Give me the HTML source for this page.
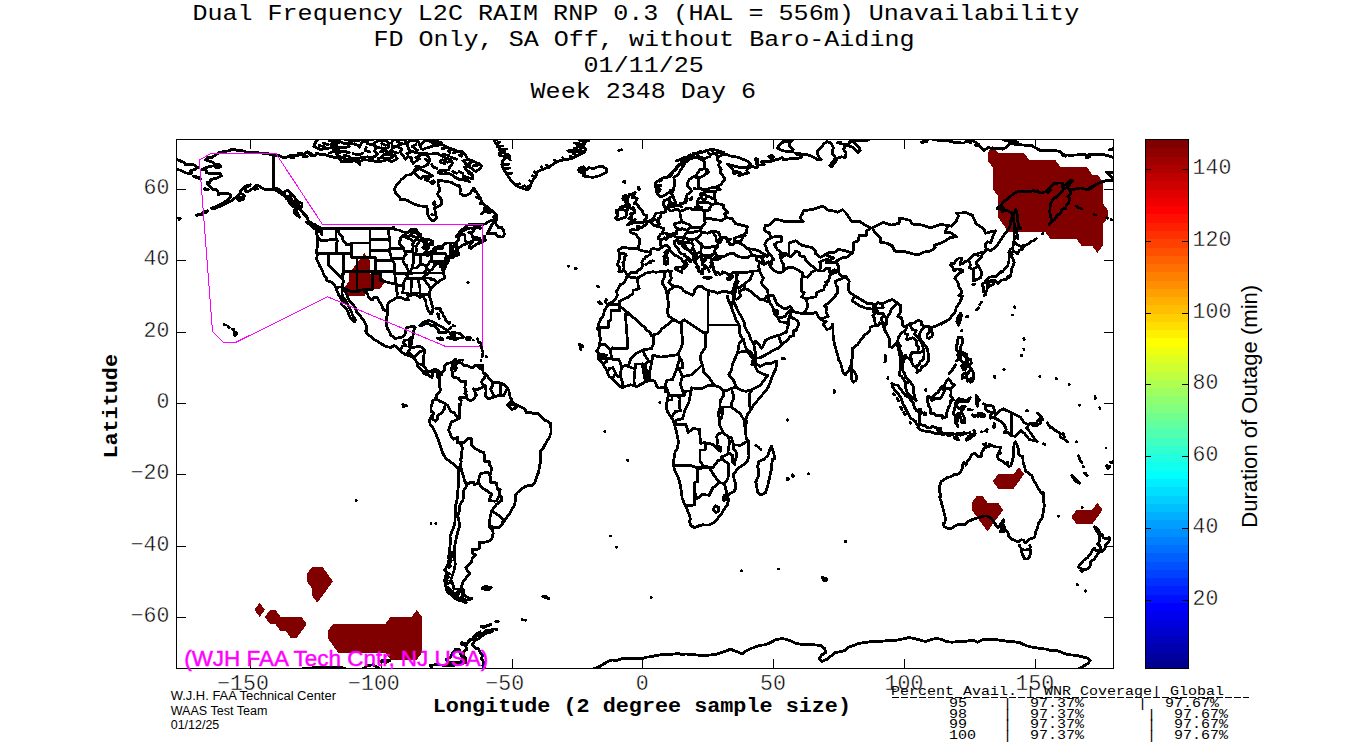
<!DOCTYPE html>
<html><head><meta charset="utf-8"><title>RAIM Unavailability</title>
<style>html,body{margin:0;padding:0;background:#fff;}svg{display:block;}.m{font-family:"Liberation Mono",monospace;}.s{font-family:"Liberation Sans",sans-serif;}</style></head><body>
<svg width="1350" height="750" viewBox="0 0 1350 750">
<rect width="1350" height="750" fill="#fff"/>
<g fill="#800000" stroke="none" transform="translate(-0.5,-0.6)" shape-rendering="crispEdges">
<polygon points="993.2,146.6 998.5,153.7 1024.6,153.7 1029.9,160.9 1056.0,160.9 1061.3,168.0 1087.5,168.0 1092.7,175.1 1097.9,175.1 1103.2,182.3 1103.2,203.7 1108.4,210.8 1108.4,217.9 1103.2,225.1 1103.2,246.5 1097.9,253.6 1092.7,246.5 1082.2,246.5 1077.0,239.4 1050.8,239.4 1045.6,232.2 1008.9,232.2 1003.7,225.1 998.5,217.9 998.5,196.5 993.2,189.4 993.2,168.0 988.0,160.9 988.0,153.7"/>
<polygon points="364.9,253.6 370.1,260.8 370.1,275.0 380.6,275.0 385.8,282.2 380.6,289.3 370.1,289.3 364.9,296.4 349.2,296.4 344.0,289.3 349.2,282.2 349.2,275.0 354.4,267.9 359.7,260.8"/>
<polygon points="312.5,567.6 323.0,567.6 333.5,581.9 317.8,603.3 312.5,596.2 312.5,589.0 307.3,581.9 307.3,574.7"/>
<polygon points="260.2,603.3 265.4,610.4 260.2,617.6 254.9,610.4"/>
<polygon points="270.6,610.4 275.9,610.4 281.1,617.6 302.1,617.6 307.3,624.7 302.1,631.8 296.8,639.0 291.6,639.0 286.4,631.8 281.1,631.8 275.9,624.7 270.6,624.7 265.4,617.6"/>
<polygon points="333.5,624.7 385.8,624.7 391.1,617.6 412.0,617.6 417.3,610.4 422.5,617.6 422.5,653.2 417.3,660.4 391.1,660.4 385.8,653.2 338.7,653.2 333.5,646.1 328.2,639.0 328.2,631.8"/>
<polygon points="1019.4,467.7 1024.6,474.8 1019.4,482.0 1014.2,489.1 998.5,489.1 993.2,482.0 998.5,474.8 1014.2,474.8"/>
<polygon points="977.5,496.2 982.7,496.2 988.0,503.4 998.5,503.4 1003.7,510.5 998.5,517.7 993.2,524.8 988.0,531.9 982.7,524.8 977.5,517.7 972.3,510.5 972.3,503.4"/>
<polygon points="1097.9,503.4 1103.2,510.5 1097.9,517.7 1092.7,524.8 1077.0,524.8 1071.8,517.7 1077.0,510.5 1092.7,510.5"/>
</g>
<defs><clipPath id="ax"><rect x="176" y="139" width="938" height="530"/></clipPath></defs>
<g clip-path="url(#ax)"><path d="M273.3,155.1 266.7,153.4 260.2,153.0 253.6,152.3 247.1,152.3 243.2,150.9 237.9,150.5 232.4,149.1 228.8,150.9 223.5,151.6 218.3,153.0 215.4,155.1 211.7,157.6 207.3,157.6 205.7,159.8 209.1,160.9 213.1,162.3 214.4,164.4 218.5,164.4 220.9,166.6 217.0,168.0 213.6,165.9 207.8,166.9 202.3,169.4 206.5,170.5 206.5,172.6 210.4,173.7 215.7,173.3 220.4,173.7 221.4,175.8 219.6,176.9 215.7,178.7 211.0,179.4 209.6,182.3 207.6,184.0 209.6,186.5 212.5,189.4 216.7,189.8 218.3,192.3 218.3,194.4 222.2,193.7 226.1,193.7 230.1,194.0 230.1,197.6 227.5,200.1 222.2,203.7 216.5,206.2 211.7,208.3 215.1,208.3 219.6,206.5 223.5,204.7 227.7,202.6 232.7,200.1 236.6,196.5 240.3,193.0 240.3,190.8 243.7,187.6 247.1,185.5 250.2,184.8 248.9,186.2 245.3,188.0 245.0,191.2 248.4,191.5 251.3,189.4 254.4,187.3 255.5,185.8 258.9,185.8 261.0,187.6 265.4,189.4 272.0,189.4 276.4,190.5 281.1,193.7 284.8,195.8 287.7,199.0 289.5,202.6 292.9,206.2 296.3,208.0 300.5,208.7 301.5,211.5 304.7,214.4 307.3,217.2 308.3,220.8 311.2,222.9 315.2,225.1 319.9,227.6 321.4,230.4 321.7,234.7 320.4,231.9 315.9,230.8 317.5,236.5 317.8,238.6 317.8,244.7 316.5,250.8 317.2,255.4 316.7,259.3 318.3,262.9 320.4,267.2 321.7,269.0 323.0,271.8 323.3,274.0 326.4,277.9 326.7,280.4 330.3,281.8 332.4,282.9 335.6,286.8 336.9,290.7 338.7,295.0 341.3,299.3 343.2,302.9 341.3,304.3 343.4,306.4 345.8,308.2 348.4,312.5 349.2,316.1 352.3,319.6 354.4,321.8 355.7,320.3 353.6,317.1 352.3,314.3 351.0,310.7 348.7,306.4 347.1,303.6 345.3,300.0 342.6,296.4 341.9,292.9 341.9,290.0 345.3,291.8 347.1,295.4 348.7,299.3 350.5,302.1 352.9,304.3 355.5,308.2 356.5,311.8 359.7,315.4 362.8,319.3 364.9,322.5 366.5,326.4 366.7,329.6 365.7,331.0 367.5,334.3 370.1,336.0 374.1,339.3 377.5,341.4 380.9,343.5 384.5,345.7 388.5,347.1 391.6,347.1 393.7,345.7 396.3,346.4 399.5,350.0 401.0,351.7 404.2,353.9 407.3,355.3 410.7,356.4 412.8,356.4 413.3,357.5 415.2,360.0 417.8,363.5 417.8,366.7 419.9,368.5 420.7,369.2 423.3,371.4 423.5,373.2 425.4,374.2 427.7,374.2 429.8,376.4 431.7,377.4 433.0,376.0 432.2,373.9 434.0,371.7 436.4,372.1 437.7,374.2 437.4,376.7 438.7,377.8M439.8,372.4 436.9,369.9 434.3,369.2 431.7,371.0 429.0,372.1 427.2,370.7 426.2,369.2 423.8,366.0 423.3,363.5 423.3,360.0 423.8,356.4 424.3,352.5 424.6,350.0 422.5,347.8 419.9,346.7 417.3,346.7 414.6,347.1 412.0,347.5 410.2,346.7 411.2,344.3 411.5,341.0 411.8,337.8 412.5,338.2 413.3,333.9 413.6,331.0 415.2,327.8 414.1,326.8 410.7,326.8 407.3,327.5 405.7,329.3 405.5,332.8 404.2,335.3 402.1,337.1 398.9,337.8 395.3,338.5 392.9,336.8 390.8,335.0 389.8,332.5 387.9,329.3 386.6,325.7 386.4,323.2 386.6,317.8 387.7,312.9 387.7,308.2 387.7,304.3 390.3,301.4 393.7,299.7 395.8,297.9 398.4,297.2 401.5,297.9 403.6,298.9 406.3,299.7 408.4,300.0 407.8,297.5 408.1,295.7 410.7,295.0 412.0,294.7 414.1,295.0 416.5,295.0 418.3,296.1 419.6,297.5 421.7,296.4 423.3,296.8 425.1,299.7 425.9,302.1 425.9,304.6 427.2,307.9 428.3,310.4 429.6,312.5 430.3,313.9 431.9,313.6 432.7,311.4 433.0,308.2 431.9,304.3 431.4,301.8 430.3,298.9 429.3,295.4 429.6,292.2 430.6,289.3 433.2,286.4 435.1,285.0 436.9,282.5 438.5,282.2 440.3,280.0 442.1,279.7 444.5,277.9 444.0,275.0 443.4,271.8 442.4,269.7 442.7,266.1 442.4,263.3 443.4,266.1 443.7,270.4 444.7,268.3 445.8,266.1 445.8,265.0 444.7,263.3 446.3,264.3 447.9,262.2 448.7,259.3 448.9,257.9 452.6,257.5 453.9,256.8 452.6,256.1 455.5,255.4 457.6,255.1 459.1,254.7 458.9,253.3 457.3,253.6 456.5,252.2 457.3,251.1 457.3,249.3 458.6,247.6 460.5,246.8 462.3,245.1 464.9,244.7 467.0,243.3 469.1,242.2 472.2,241.1 473.5,240.1 472.8,241.8 470.1,244.3 469.1,247.2 470.7,248.6 473.5,246.5 475.9,244.3 480.1,242.9 482.7,241.8 485.3,240.1 484.5,236.1 482.7,239.4 481.4,240.4 478.3,240.1 474.9,239.4 473.0,237.6 472.2,235.4 471.4,232.9 468.8,232.2 472.2,231.9 474.1,230.4 474.1,229.0 470.9,227.9 467.0,229.0 463.1,230.8 459.7,233.6 457.3,235.8 456.0,236.5 458.4,234.0 459.9,231.9 462.3,229.4 465.7,227.2 468.6,224.4 473.5,224.0 477.5,224.0 480.6,224.4 485.3,224.0 488.7,221.5 492.9,220.1 496.1,217.9 496.6,215.1 494.5,212.6 492.4,210.8 489.3,210.1 485.3,211.9 489.3,208.3 486.6,206.5 484.5,204.7 481.4,202.2 480.9,199.0 478.8,195.8 476.7,192.3 473.8,188.3 471.7,191.2 469.6,193.7 465.7,195.5 463.1,195.8 459.9,193.0 460.5,188.7 459.1,185.8 455.2,184.8 452.1,182.6 447.4,181.6 442.1,180.8 438.5,180.5 437.9,184.0 439.2,187.6 439.8,190.5 437.4,194.0 440.0,197.6 441.9,201.2 441.6,204.0 438.7,206.2 434.3,208.0 435.1,210.8 435.8,214.4 436.4,217.9 434.0,220.4 431.4,220.4 429.0,216.9 427.2,213.7 427.2,209.0 426.9,206.5 423.0,206.2 418.6,205.8 413.3,203.7 408.1,200.8 404.2,199.4 400.5,200.1 399.5,196.5 395.8,193.7 394.5,189.4 396.3,185.1 398.9,182.3 401.5,179.4 404.7,177.3 406.8,175.1 410.7,174.8 413.9,171.6 414.6,169.8 417.3,168.0 415.9,166.2 419.9,166.9 423.3,166.9 427.7,164.4 429.6,160.9 429.0,157.3 426.4,154.8 421.2,154.4 418.6,156.2 418.3,159.1 415.4,161.6 413.3,163.4 411.2,160.9 412.0,158.0 408.1,156.6 405.5,159.1 402.9,155.5 400.2,151.9 402.1,149.1 398.9,147.3 395.0,146.6 392.4,148.4 390.3,151.2 391.9,154.8 395.0,155.5 397.1,158.4 394.2,160.5 391.1,161.6 387.9,159.4 384.0,160.9 380.6,161.2 376.2,161.6 372.2,160.5 367.5,160.1 363.6,159.8 360.2,161.2 359.7,164.4 357.8,161.6 354.4,160.9 350.5,161.6 345.3,161.9 341.1,161.6 340.5,158.7 336.1,157.6 330.9,156.6 325.6,154.8 320.4,154.4 316.5,153.4 315.2,155.5 311.2,155.5 307.3,151.9 304.2,154.1 299.4,155.1 294.2,155.9 290.3,155.1 286.4,157.3 282.4,157.3 278.5,155.5 273.3,155.1M469.6,181.6 464.4,180.1 459.1,179.4 455.2,177.3 451.3,174.4 447.4,173.3 443.4,174.1 438.2,173.0 439.5,170.5 444.7,170.5 448.7,169.8 450.0,166.2 452.6,163.4 450.5,159.8 446.1,158.0 442.1,156.2 438.2,153.7 434.3,153.7 430.3,154.1 425.1,153.7 419.9,153.4 414.6,152.3 409.4,150.5 408.1,147.3 406.8,143.7 409.4,140.9 414.6,140.2 418.6,141.9 419.9,145.5 421.2,148.4 420.4,144.8 423.8,141.2 429.0,140.5 433.0,143.7 436.9,143.4 440.8,144.1 444.7,145.9 448.7,148.0 453.9,149.4 457.8,151.2 461.8,151.6 464.4,153.7 466.2,156.2 467.8,159.4 473.5,161.2 478.8,163.7 481.9,165.9 480.1,168.3 476.2,171.6 473.5,170.1 470.9,168.0 467.0,166.2 464.4,167.3 467.0,170.5 471.4,173.3 473.0,176.9 473.0,179.1 469.6,178.0 465.7,176.9 463.1,176.2 465.7,178.7 469.6,181.6M432.4,175.8 430.3,174.8 428.3,173.0 423.8,170.8 419.9,168.7 415.9,169.8 414.6,172.6 416.7,175.5 418.6,177.6 421.2,178.3 423.8,176.2 426.4,176.2 429.0,176.9 432.4,175.8M425.1,179.8 427.7,180.5 428.5,179.1 425.6,178.7 425.1,179.8M433.0,183.0 434.5,182.3 433.5,180.8 432.2,181.6 433.0,183.0M440.8,162.6 444.7,163.4 445.5,160.9 442.1,159.8 440.0,160.9 440.8,162.6M367.5,156.9 359.7,158.0 354.4,158.7 346.6,159.1 341.3,157.3 336.1,154.1 337.4,152.3 345.3,151.9 349.2,152.6 344.0,150.9 335.3,150.9 332.7,148.7 338.7,148.4 332.2,146.6 330.9,144.4 333.5,142.3 341.3,141.9 344.0,143.7 351.8,143.7 357.0,144.8 359.7,147.3 361.0,143.7 362.3,141.9 367.5,140.9 367.5,143.7 372.8,144.8 376.7,147.3 374.1,151.2 378.0,154.1 375.4,156.2 371.4,157.3 367.5,156.9M320.4,149.4 313.8,146.6 315.2,143.0 317.0,140.2 319.1,138.4 325.6,137.7 333.5,138.7 340.0,141.6 334.8,144.8 330.9,147.7 325.6,148.7 320.4,149.4M383.2,148.7 375.4,146.6 374.1,143.0 379.3,140.2 385.8,140.2 388.5,143.0 389.0,146.6 385.8,148.7 383.2,148.7M392.4,146.2 391.6,143.0 393.7,139.1 401.5,139.1 406.0,140.9 405.5,143.7 400.2,144.4 396.3,146.2 392.4,146.2M392.4,157.3 389.8,158.7 384.5,158.7 381.9,156.6 384.5,154.1 388.5,154.1 391.6,155.5 392.4,157.3M431.7,140.5 438.2,141.6 442.1,143.0 438.2,143.4 431.7,142.3 431.7,140.5M341.3,138.7 349.2,137.7 354.4,138.7 347.9,139.8 341.3,138.7M493.2,138.4 495.0,141.9 497.6,145.5 499.2,148.7 505.0,150.9 500.2,151.9 507.6,154.4 509.9,156.6 505.0,158.4 502.3,161.6 501.8,164.8 503.6,169.4 506.3,173.0 507.8,175.8 510.7,180.1 514.1,184.0 518.0,186.5 523.3,188.7 527.5,189.8 529.8,188.0 530.9,184.0 533.0,179.8 536.1,175.8 537.7,171.6 543.4,169.1 549.5,166.9 554.7,163.0 559.9,160.5 567.8,159.4 574.3,157.3 579.6,154.4 583.5,153.0 577.0,151.6 570.4,151.9 575.6,149.4 584.8,151.6 585.6,148.7 583.0,145.9 578.3,144.8 584.8,143.7 583.5,141.6 588.7,140.9 590.0,138.4M498.9,155.1 503.1,156.2 506.5,155.1 503.6,152.6 498.9,153.0 498.9,155.1M583.0,175.8 588.7,176.9 593.4,177.3 599.2,175.8 603.9,173.7 606.8,171.6 606.5,169.1 603.7,166.9 600.0,166.2 595.8,167.6 592.7,168.7 589.3,167.6 586.6,169.8 583.5,166.6 579.6,168.3 578.3,169.8 584.0,170.1 584.8,171.6 579.6,171.9 584.3,174.1 583.0,175.8M487.2,233.6 490.6,233.3 495.8,233.6 497.6,236.1 501.0,236.9 503.1,236.9 504.4,234.0 503.6,230.4 501.8,227.6 498.4,227.6 496.3,224.4 494.5,220.1 496.8,219.7 493.2,222.6 491.1,226.2 489.3,230.1 487.2,233.6M473.8,225.8 478.8,226.5 480.6,228.3 476.2,227.6 473.8,225.8M474.1,236.9 477.5,237.9 480.1,237.9 478.8,239.4 474.9,238.3 474.1,236.9M306.5,222.2 309.9,224.7 313.8,228.3 317.8,230.8 319.3,230.4 316.5,227.2 312.5,223.7 306.5,222.2M294.2,210.5 296.8,210.8 297.6,213.7 299.4,217.2 296.8,215.1 294.2,212.6 294.2,210.5M237.9,196.9 243.2,196.9 243.7,199.0 239.2,200.8 237.1,198.7 237.9,196.9M193.4,176.2 200.0,177.6 200.5,178.7 196.0,177.3 193.4,176.2M205.2,188.7 208.3,189.4 207.8,190.1 204.4,189.4 205.2,188.7M205.2,211.2 207.3,210.8 206.8,212.2 205.2,212.9 205.2,211.2M200.0,214.7 202.6,212.9 202.1,214.4 200.0,214.7M178.5,218.3 180.3,218.7 179.0,219.4 178.5,218.3M419.9,325.3 422.5,322.5 425.1,321.4 427.7,320.7 431.7,321.1 435.6,323.6 439.5,325.7 443.4,327.8 446.1,329.6 448.1,331.4 446.1,332.5 440.8,332.5 439.0,332.7 438.2,329.6 436.9,328.6 434.3,326.1 430.3,325.0 427.7,323.2 423.8,324.3 421.2,325.7 419.9,325.3M447.6,337.8 450.2,338.5 453.9,338.9 454.7,340.0 457.8,338.2 461.8,337.8 463.3,337.1 461.8,335.0 459.4,333.2 454.7,332.8 451.8,332.5 450.2,333.2 451.8,335.7 452.9,337.1 450.0,337.5 447.6,337.8M437.4,338.2 440.8,337.8 442.9,339.3 440.8,340.0 437.4,338.2M466.5,337.8 470.4,337.8 470.1,339.3 466.5,339.3 466.5,337.8M435.8,308.6 438.5,308.2 440.6,308.9 440.3,311.1M437.4,313.9 438.7,317.1 439.2,318.6 438.7,314.6 437.4,313.9M441.6,312.5 442.9,313.9 443.2,315.7 444.7,317.1 445.3,319.3 446.3,321.1M447.6,322.5 448.9,323.9 450.0,322.8M449.5,328.6 451.0,327.5M453.1,325.7 455.0,326.1M480.6,365.3 482.7,365.3 482.7,367.4 480.6,367.4 480.6,365.3M477.2,338.9 477.7,339.3M478.0,341.8 478.5,342.1M480.3,342.5 480.9,342.8M480.9,345.3 481.9,346.4M481.7,348.2 481.9,348.9M482.2,350.7 483.0,351.7M482.7,353.5 482.7,354.6M482.2,356.0 482.2,356.7M480.9,360.0 481.1,360.7M486.4,356.4 486.6,356.7M467.8,282.2 468.3,282.5M472.8,340.1 473.3,340.1M461.5,360.0 462.3,360.3M439.8,372.4 441.3,374.9 442.9,371.4 444.5,369.6 444.7,366.0 446.6,363.9 448.1,363.2 451.3,362.8 453.4,361.0 455.5,359.2 456.3,360.3 454.2,362.4 455.0,364.9 453.9,367.8 455.2,370.7 456.3,368.5 455.7,364.6 458.4,362.4 459.1,360.0 459.9,362.4 463.3,364.6 464.4,366.0 467.3,365.7 469.6,367.1 473.0,367.4 474.9,365.7 477.5,365.3 480.3,365.3 478.0,366.4 479.3,368.2 482.7,369.6 483.2,373.2 485.8,374.2 489.3,378.5 491.9,381.4 493.2,382.4 497.9,382.4 501.0,383.1 504.2,384.9 507.1,387.4 508.9,391.0 510.2,397.1 511.8,399.9 508.9,403.5 507.6,405.3 510.2,404.2 512.8,402.4 515.4,404.2 515.7,407.8 518.0,405.6 522.0,407.4 525.1,409.5 526.4,412.8 529.3,412.0 533.8,413.8 537.7,413.5 541.6,416.7 544.8,420.2 548.2,421.7 550.3,423.1 551.0,428.5 551.0,432.7 549.5,437.0 547.1,440.9 545.0,444.5 542.9,448.8 540.6,450.6 540.3,456.3 540.3,462.4 539.5,467.0 538.2,473.1 536.4,477.3 535.1,482.0 532.4,485.2 528.5,485.5 525.4,486.6 521.2,489.1 517.3,492.7 515.2,495.9 515.2,500.9 514.6,505.2 511.5,509.8 508.9,514.8 505.7,518.7 502.6,523.7 499.7,527.3 495.8,528.0 491.1,526.2 489.5,524.8 489.5,527.3 492.7,530.1 493.2,533.4 491.9,539.1 487.9,541.6 482.7,542.6 479.6,542.3 479.6,548.3 476.2,550.1 472.2,549.1 472.2,553.3 475.9,554.8 474.1,556.5 472.2,558.3 471.4,562.6 468.3,564.8 465.7,567.6 467.8,571.2 469.9,574.0 465.7,578.3 463.1,581.9 461.8,585.1 461.8,587.6 463.3,590.1 460.5,590.1 457.0,591.9 456.5,595.4 453.1,594.4 449.2,591.9 446.6,589.7 445.5,585.4 444.7,580.1 445.3,575.8 447.4,573.3 444.5,570.1 446.6,566.9 449.2,564.0 450.5,559.8 451.8,555.1 451.3,551.9 449.2,551.6 450.0,546.2 450.5,540.8 450.0,536.2 451.8,531.9 453.9,526.6 455.0,521.2 455.2,515.9 455.5,510.5 455.2,506.2 456.8,501.6 457.6,494.5 458.1,487.7 458.6,480.2 458.6,474.8 458.4,469.1 455.7,466.3 452.6,463.4 448.7,460.6 445.5,458.1 442.7,453.1 441.3,448.8 440.3,446.3 438.7,440.9 436.6,435.6 435.1,432.0 433.2,428.1 430.1,424.5 429.6,419.9 431.7,416.0 433.2,414.9 433.2,412.0 430.9,411.7 430.9,407.0 431.9,404.6 432.7,401.0 434.3,399.9 436.1,397.4 436.9,394.2 439.5,392.1 440.6,389.6 439.5,386.4 439.8,383.1 439.8,379.6 438.7,377.8M509.7,404.2 511.5,404.2 515.2,404.9 514.6,408.5 511.5,409.5 509.7,407.0 509.7,404.2M463.1,591.2 463.9,593.7 465.4,596.2 468.6,597.9 471.7,598.6 468.3,600.1 464.4,599.7 466.2,602.9 461.8,601.1 457.8,600.1 453.9,597.6 450.0,594.0 447.4,592.2 452.6,594.7 456.5,596.5 458.4,594.4 458.6,591.9 460.5,591.2 463.1,591.2M447.9,558.0 450.0,553.0 450.2,556.9 449.2,558.7 447.9,558.0M482.2,588.3 485.3,586.5 487.9,586.9 491.1,587.6 488.7,589.7 485.3,589.7 482.2,588.3M542.9,596.2 546.1,596.5 548.7,598.6 545.5,597.6 542.9,596.2M430.9,523.7 431.1,523.7M435.8,523.4 436.1,523.4M402.9,404.6 404.2,404.9 403.6,407.0 402.9,404.6M405.5,405.3 406.3,406.0M234.0,331.4 236.6,332.8 236.6,334.3 234.8,335.9 234.0,333.5 234.0,331.4M232.2,328.9 234.0,329.6M228.2,326.8 229.5,327.5M224.3,324.6 225.4,325.0M198.1,167.6 193.4,164.8 189.5,164.1 185.3,164.4 184.3,162.6 180.3,160.9 176.4,159.1 171.2,157.6M1113.6,157.6 1108.4,155.9 1103.2,154.4 1096.6,154.1 1089.0,154.1 1089.6,156.9 1086.2,158.0 1087.5,155.1 1082.2,154.4 1074.4,155.1 1067.8,155.1 1062.6,154.8 1060.8,151.9 1054.7,150.2 1046.9,150.2 1040.3,150.5 1036.4,148.4 1032.5,145.9 1024.6,145.2 1016.8,144.4 1010.2,143.7 1007.6,145.9 1005.0,148.0 998.5,148.4 991.9,148.7 988.0,147.3 984.1,150.5 980.9,148.0 978.8,144.4 973.6,141.2 967.0,140.5 963.9,143.0 955.3,142.7 948.7,140.9 939.5,140.9 934.3,139.4 929.1,138.7 925.1,141.9 921.2,142.3 930.4,138.4M870.2,138.4 867.6,140.2 858.4,140.9 853.2,141.2 855.8,144.8 859.2,148.0 860.2,150.9 857.6,152.6 853.2,147.3 847.9,145.5 845.3,146.2 843.5,149.1 846.1,153.0 845.3,157.3 841.4,156.9 837.4,158.4 835.6,161.6 831.7,166.9 829.6,165.5 833.0,161.9 835.6,157.6 832.7,154.4 832.2,150.5 833.5,147.7 831.7,144.1 827.8,141.9 823.8,143.4 822.3,146.6 817.8,150.2 817.3,153.7 819.1,157.3 821.2,159.8 816.5,159.1 812.6,156.6 807.3,154.8 800.8,154.4 801.6,157.3 796.9,158.7 792.9,158.4 787.7,159.1 783.8,160.1 782.5,157.6 778.5,159.1 773.3,160.5 769.4,161.9 764.9,161.6 761.5,161.9 764.1,164.8 758.9,165.1 757.1,163.0 758.1,159.1 755.5,158.7 756.3,162.6 757.6,166.9 756.3,167.6 752.4,166.6 748.4,168.3 746.6,170.5 748.4,173.0 745.8,173.3 741.4,175.1 738.7,175.5 740.8,173.0 738.0,172.3 733.8,173.7 733.5,170.5 731.4,167.6 728.3,164.8 727.5,164.1 733.5,165.9 739.3,167.3 744.5,167.6 749.0,166.6 750.5,163.7 748.4,161.6 743.2,159.4 738.0,157.3 730.1,155.9 726.2,154.1 721.5,154.4 723.8,152.3 719.6,151.2 716.5,150.2 714.4,149.8 709.9,149.8 705.8,150.9 702.1,152.3 697.9,153.4 694.2,154.1 690.8,155.9 686.9,157.6 684.8,159.1 686.9,159.4 683.0,161.2 680.4,163.7 677.0,166.6 675.1,169.8 672.5,172.3 669.9,174.4 668.1,176.6 669.9,176.9 666.0,177.3 662.0,178.3 658.9,180.5 655.8,182.3 655.5,185.5 656.0,188.3 656.3,191.5 657.3,193.7 659.4,196.2 662.0,196.5 664.1,195.5 667.3,193.3 669.6,191.9 670.4,190.1 671.2,192.6 671.7,194.0 673.6,197.6 675.1,201.5 675.9,204.4 676.4,205.8 679.8,205.5 680.1,203.7 683.5,203.3 685.6,201.2 685.9,198.0 686.9,194.8 689.5,193.0 691.6,190.8 689.0,187.6 687.4,185.8 687.7,182.3 689.5,179.4 692.9,176.9 696.3,175.5 697.9,172.3 700.0,169.8 703.9,168.7 707.9,170.1 708.6,172.3 706.0,174.1 702.1,176.6 698.7,178.3 698.2,181.2 698.7,184.4 698.2,186.9 701.3,188.7 702.6,189.8 706.5,189.4 710.5,188.0 714.4,187.6 717.5,187.3 720.4,189.4 717.0,190.1 715.7,191.2 711.8,191.2 707.9,191.2 703.9,192.3 704.5,194.0 706.5,195.5 706.0,198.0 705.2,199.7 703.1,199.7 701.6,197.6 699.0,198.3 697.6,200.8 697.4,203.7 697.9,206.2 695.3,207.6 694.2,209.4 691.4,209.4 690.3,208.0 686.9,208.3 683.8,210.1 679.8,211.2 678.0,209.0 675.1,209.4 672.5,210.8 670.9,211.0 668.6,209.0 667.5,208.0 668.1,205.8 669.4,203.3 670.9,202.2 669.4,200.5 670.2,197.6 667.3,199.4 663.9,200.8 663.6,203.7 663.9,205.5 665.2,207.6 665.7,210.5 666.0,211.2 664.7,212.2 661.3,212.2 660.5,212.9 656.8,212.9 655.0,214.7 653.9,217.2 652.9,218.3 651.6,220.1 648.9,221.2 646.9,221.9 646.6,224.4 643.2,226.2 642.7,227.2 639.3,227.2 639.0,226.2 637.4,226.2 638.2,229.7 635.9,230.1 633.2,229.4 630.1,230.4 630.6,232.6 634.5,233.6 636.6,235.1 637.4,237.2 639.3,239.0 639.5,241.1 639.3,244.3 638.2,248.3 634.5,248.6 630.6,248.6 627.2,247.9 622.2,247.6 620.4,248.6 618.1,250.4 619.4,252.9 619.6,256.5 619.1,260.0 617.5,265.0 618.6,265.8 619.1,266.5 619.4,267.9 618.8,271.5 621.7,271.5 624.3,270.8 625.9,272.9 627.7,275.0 628.8,274.3 630.9,272.5 633.5,272.5 636.6,272.5 638.5,270.0 640.6,269.0 642.9,265.4 641.6,262.5 643.2,259.7 644.8,258.3 646.3,256.5 648.2,255.8 651.0,253.3 650.5,251.5 651.0,249.3 653.1,248.3 655.5,249.0 658.1,249.7 659.9,249.0 662.0,247.2 664.4,245.8 665.7,245.1 668.1,246.1 669.4,248.3 669.9,250.4 671.5,251.8 673.3,253.3 674.6,255.1 677.2,256.1 678.5,256.5 679.6,257.9 681.2,258.6 682.2,260.4 683.5,261.1 684.6,264.3 683.8,266.1 683.4,267.5 684.3,268.3 685.9,266.5 687.2,264.3 685.9,261.8 686.6,259.3 687.7,259.3 689.5,261.1 690.6,261.5 690.8,260.0 689.3,258.3 686.6,256.8 684.3,255.4 684.8,254.0 682.2,254.0 680.4,252.9 679.1,251.1 678.0,248.3 675.4,246.1 674.6,244.3 674.9,242.2 674.6,241.1 677.2,240.4 678.3,240.8 678.0,242.6 678.8,243.6 679.8,241.8 681.4,242.9 682.2,245.8 684.3,247.9 685.6,248.6 688.2,250.1 690.3,251.8 692.1,253.3 693.2,254.3 693.5,256.1 693.2,259.3 694.8,261.8 695.5,263.3 696.9,264.7 697.6,266.5 699.0,267.2 697.9,269.0 699.0,271.8 700.3,271.8 701.3,273.6 702.4,272.9 703.1,273.6 702.4,270.4 702.1,269.3 703.1,270.0 704.2,268.3 705.2,269.0 705.2,267.2 703.4,265.4 702.1,264.3 702.9,263.3 702.1,261.8 701.6,259.3 702.4,258.6 703.7,260.0 704.5,261.1 706.0,260.0 704.7,258.6 706.3,257.5 708.4,257.5 710.2,257.9 710.7,258.6 712.3,259.0 711.0,260.4 713.9,258.6 715.7,257.2 718.3,256.8 716.0,255.1 715.4,253.3 714.4,251.8 715.4,249.3 717.3,247.6 717.3,245.4 718.8,242.9 720.2,241.8 720.2,240.4 721.7,239.4 722.8,237.6 724.9,237.2 726.2,237.6 725.7,238.6 728.8,239.0 730.4,239.4 728.0,240.1 727.5,241.8 730.1,242.9 729.8,244.3 731.9,245.1 734.6,243.3 738.0,242.2 738.0,241.1 734.8,241.5 734.0,240.4 734.6,238.3 736.4,237.2 738.7,236.9 740.8,235.4 743.2,235.4 745.3,235.1 743.5,236.1 741.4,237.2 742.4,238.6 741.6,239.7 740.8,241.5 738.7,241.8 739.8,243.3 741.4,244.0 743.7,245.4 746.3,247.9 749.7,250.1 751.3,253.3 751.3,255.1 748.4,257.2 746.3,257.2 742.9,257.5 739.8,256.8 737.4,256.1 735.3,254.7 734.3,253.6 730.9,253.6 727.5,254.3 725.7,255.8 722.3,256.8 718.8,256.5 720.7,258.3 718.3,259.3 715.7,259.3 713.1,259.3 711.5,260.4 710.7,262.5 712.6,263.3 712.8,265.0 711.5,265.4 711.3,266.8 713.4,266.5 713.9,268.3 713.6,270.0 714.1,271.5 716.5,272.2 718.6,272.9 719.9,274.3 722.0,274.0 722.8,271.8 726.2,273.2 728.3,275.0 731.4,274.0 733.0,272.2 735.6,272.9 737.2,272.2 736.1,274.0 736.1,276.8 736.4,280.0 735.3,282.5 734.0,286.4 733.5,288.9 732.2,291.4 730.9,292.5 728.0,292.5 727.0,291.8 725.7,291.1 723.3,291.1 720.7,292.2 717.8,293.2 713.6,291.4 708.4,290.7 705.2,288.9 703.1,288.2 701.6,286.4 699.0,286.1 695.0,288.9 694.5,292.2 692.4,295.4 689.0,293.2 685.9,292.2 683.2,290.7 681.9,287.9 677.0,286.1 674.1,286.1 671.2,284.7 668.8,282.5 670.7,279.7 671.5,277.9 670.2,275.7 670.2,273.2 671.2,271.1 669.4,272.2 668.3,270.4 665.4,271.5 662.8,271.8 660.5,271.8 655.8,272.2 652.6,271.8 650.3,272.2 645.8,273.2 642.4,275.4 640.8,276.1 637.4,278.2 634.8,277.5 632.2,277.9 630.1,277.2 628.5,275.4 627.0,275.7 625.9,279.3 624.6,282.2 622.5,283.6 620.2,284.7 618.3,288.2 616.7,291.1 617.3,295.0 615.7,298.6 612.3,301.8 608.6,303.9 607.3,306.4 604.4,310.4 603.4,315.4 600.8,318.9 598.2,325.3 597.6,329.3 599.7,330.3 599.2,334.3 600.5,338.9 599.7,343.5 599.2,346.4 597.9,349.2 596.6,351.0 598.4,353.2 598.9,355.7 598.4,358.9 599.7,360.7 601.3,361.4 603.1,364.2 603.9,366.0 606.5,369.6 607.6,373.2 609.2,376.4 612.3,378.9 614.1,381.0 617.5,384.2 622.2,387.8 626.4,386.0 630.6,384.9 634.0,385.3 636.9,386.7 639.8,384.9 641.9,383.9 645.5,381.7 648.7,381.0 651.3,380.6 654.2,381.0 655.8,383.1 656.5,385.6 658.1,388.1 660.7,387.8 663.9,387.4 665.4,387.1 667.5,389.6 668.3,393.1 668.1,396.7 667.0,402.1 666.0,406.0 667.5,411.7 670.2,415.6 673.3,420.6 674.3,424.2 674.6,425.2 676.4,431.3 677.0,434.9 678.5,441.7 677.5,448.4 675.1,452.0 674.1,457.7 673.3,462.7 673.3,465.2 674.9,470.6 677.0,474.8 679.1,480.2 680.4,485.2 681.4,492.7 682.2,498.4 684.6,504.1 685.6,505.5 687.4,510.5 689.8,516.2 690.3,519.8 689.3,521.2 690.6,524.4 690.8,525.9 693.2,526.9 694.8,527.6 698.7,525.9 702.6,524.8 707.1,525.1 709.7,524.8 713.1,523.0 715.4,521.2 718.8,516.9 721.7,513.4 723.6,510.2 725.7,507.0 727.2,505.2 728.5,499.8 727.8,496.2 729.3,493.8 734.0,491.6 735.3,488.8 735.3,482.7 734.0,478.4 733.2,474.1 736.1,470.9 739.3,467.3 744.0,464.5 747.1,461.3 749.0,456.3 748.7,449.9 748.2,444.5 748.2,440.9 746.3,439.2 745.8,433.8 745.3,427.7 744.0,424.9 744.8,421.7 746.3,418.1 747.6,414.2 749.7,411.3 752.4,407.0 753.9,404.6 757.1,401.0 761.0,396.3 764.9,391.7 768.1,387.4 769.9,383.5 771.5,378.5 773.3,373.9 775.4,369.6 776.4,366.0 776.7,361.4 773.8,362.1 771.2,363.2 766.8,363.5 762.8,364.9 760.2,366.4 757.1,364.6 755.5,362.1 755.8,359.2 754.2,357.1 751.1,352.8 747.9,350.0 745.8,347.8 744.5,343.9 743.2,339.3 740.6,336.4 739.8,333.5 739.8,328.6 739.0,325.0 736.1,320.0 735.3,317.8 733.8,313.6 732.2,309.6 730.9,306.1 729.3,302.5 727.8,298.2 727.5,296.4 728.0,298.9 729.6,302.1 731.4,304.3 732.2,304.6 732.7,302.5 733.8,298.2 734.0,302.5 735.3,305.0 738.0,310.7 739.8,314.3 741.9,317.5 744.0,322.1 745.0,326.8 747.1,331.0 749.2,334.6 751.1,340.0 753.7,343.2 754.5,348.2 755.5,353.5 755.5,356.0 756.3,358.2 760.2,357.8 764.1,355.7 768.1,353.5 770.9,351.7 774.6,349.6 779.1,347.8 781.7,344.3 783.8,342.8 787.2,340.7 790.1,336.4 793.7,335.7 793.5,330.7 795.8,329.6 797.7,326.8 799.0,323.2 796.9,320.7 794.8,318.9 791.6,317.8 790.1,314.6 790.1,310.0 789.3,310.7 787.7,312.9 785.1,316.4 782.5,317.1 780.1,317.1 777.5,316.8 776.4,315.7 777.5,313.6 777.2,310.4 775.9,310.7 775.4,315.0 774.1,313.2 773.6,308.9 772.0,306.1 769.9,302.9 768.9,300.0 768.1,298.6 767.8,296.4 769.6,296.4 771.5,295.0 773.6,296.1 775.4,300.4 777.2,304.3 780.4,306.4 783.0,308.2 786.1,308.9 788.2,307.5 790.3,306.4 791.6,307.9 792.9,311.4 796.3,312.5 801.1,313.2 803.7,313.6 806.3,313.6 811.5,313.6 816.2,312.5 817.8,315.0 819.1,318.2 821.7,320.0 826.2,321.8 823.0,323.9 824.6,326.4 827.0,329.3 829.6,328.9 831.4,327.5 832.5,324.3 833.0,328.2 833.0,333.5 833.3,337.5 834.3,342.8 835.1,346.4 836.1,350.0 837.4,354.2 838.8,360.0 840.8,363.5 841.9,367.8 842.7,371.4 844.0,373.5 845.6,374.6 847.1,372.1 849.2,370.3 850.0,366.7 851.6,366.7 851.3,361.0 852.6,356.7 852.1,351.7 852.6,348.2 855.0,346.7 857.9,344.3 860.5,340.3 862.8,337.5 864.9,334.6 868.1,332.5 869.9,330.0 870.2,327.1 873.3,326.1 875.9,325.7 878.8,325.0 879.9,322.8 881.4,323.2 882.7,323.9 883.8,327.8 884.6,330.0 885.9,332.1 888.0,335.7 889.5,339.3 889.8,342.8 889.0,346.4 891.9,347.5 894.5,345.0 896.3,342.8 897.1,344.6 898.2,347.5 899.0,351.7 900.3,357.1 900.5,360.0 900.5,364.2 900.8,367.8 899.8,372.1 899.8,375.3 901.6,376.4 903.4,378.9 905.0,381.7 905.3,384.9 906.0,389.2 907.6,393.1 910.0,395.6 913.1,398.5 915.2,398.5 914.7,394.9 913.1,392.8 913.1,389.2 913.1,386.4 911.5,383.5 909.7,381.4 907.6,378.9 905.5,377.4 904.7,373.5 902.9,370.7 902.1,366.7 903.2,362.4 904.2,359.2 904.2,356.0 905.8,355.3 906.8,357.8 908.9,358.2 910.7,360.3 912.1,363.5 913.6,366.0 916.0,366.4 917.3,369.6 916.8,372.8 918.6,371.4 921.0,369.2 922.0,366.4 924.1,366.0 926.7,363.9 928.3,361.0 928.6,357.5 928.3,353.9 927.5,349.2 925.7,346.0 923.6,343.5 921.5,340.7 919.9,337.8 919.1,335.0 920.4,332.1 922.0,329.6 924.6,327.1 926.7,326.1 929.1,326.4 929.9,330.3 931.4,330.7 931.4,327.5 934.6,326.4 937.7,325.3 939.8,323.9 941.6,323.2 944.3,322.1 947.7,320.3 950.5,317.8 952.9,314.6 955.3,311.8 956.0,308.2 957.9,305.0 960.0,301.8 961.3,298.9 961.3,296.4 958.7,295.4 961.3,293.2 961.3,290.4 959.2,287.9 958.4,284.3 957.1,281.1 954.7,278.6 957.1,275.0 959.2,272.9 962.8,271.8 962.6,270.0 960.0,269.7 957.3,269.0 953.9,270.8 952.9,267.5 950.5,265.4 951.3,263.6 953.9,263.6 956.0,260.8 959.2,257.9 961.8,258.3 961.0,261.5 960.0,264.3 961.8,264.0 964.9,261.8 967.8,260.8 969.7,262.2 970.4,265.4 969.1,267.5 971.5,268.6 973.8,270.4 973.6,272.9 973.8,275.7 973.3,279.3 973.8,281.1 976.2,279.7 978.8,278.6 980.6,277.9 981.4,274.7 981.2,271.5 979.6,267.9 978.3,265.4 976.2,263.3 976.5,261.5 978.8,260.0 981.4,257.5 982.2,254.3 984.3,252.2 987.5,249.3 990.3,250.8 993.2,249.0 996.6,245.8 999.2,242.2 1002.4,237.6 1005.0,233.6 1008.1,229.7 1010.0,225.8 1010.5,221.5 1012.1,217.2 1012.1,213.7 1008.9,211.2 1005.8,210.1 1002.4,211.5 1000.5,208.7 997.1,208.3 1001.1,205.1 1004.2,201.5 1008.9,197.6 1012.9,194.4 1016.8,191.9 1023.3,191.5 1028.6,191.9 1033.8,190.5 1037.7,191.9 1041.6,193.0 1046.9,191.2 1049.5,187.6 1053.4,183.7 1058.7,183.0 1062.6,183.0 1062.1,186.9 1066.5,184.0 1070.4,180.5 1073.1,180.8 1069.9,184.0 1067.8,186.9 1063.4,189.4 1060.8,193.0 1057.4,196.5 1053.4,198.7 1051.3,201.9 1050.0,207.2 1049.8,212.6 1050.8,217.9 1052.4,221.5 1054.7,219.4 1057.4,215.1 1060.8,213.3 1061.8,209.0 1066.0,208.7 1066.0,205.5 1068.6,203.0 1069.7,198.3 1067.8,196.5 1070.4,193.7 1070.4,190.1 1075.7,189.0 1080.9,188.0 1087.5,189.8 1089.3,188.0 1094.0,185.8 1099.2,183.0 1105.8,180.8 1111.8,180.8 1112.3,178.0 1108.4,174.4 1106.6,172.3 1111.0,172.6 1113.6,171.6M171.2,171.6 172.5,170.5 173.3,166.9 175.1,169.4 180.3,170.1 184.3,172.3 188.7,173.7 191.3,173.7 190.8,170.8 194.7,169.4 197.3,168.0 198.1,167.6M627.5,224.7 631.4,223.7 633.5,222.9 637.2,222.6 639.8,222.2 643.2,222.2 646.1,220.8 644.8,219.7 646.6,217.6 646.9,215.4 643.5,214.4 642.9,212.2 641.9,210.1 639.0,208.0 638.2,205.1 635.9,203.7 634.0,203.7 635.9,201.5 637.2,198.7 634.8,197.6 631.9,198.0 633.8,195.8 634.3,194.4 629.3,194.4 628.5,196.9 627.2,199.0 627.5,201.9 626.2,202.6 628.0,204.7 627.7,206.2 629.6,204.7 629.6,207.6 630.9,208.3 633.5,207.6 633.0,209.4 634.8,210.5 634.5,212.9 633.0,213.3 630.6,213.7 631.4,215.1 631.7,216.9 629.8,217.9 628.8,218.7 631.4,219.4 634.0,220.1 635.3,219.4 634.0,220.8 631.1,221.2 628.8,224.0 627.5,224.7M626.2,213.3 626.7,214.7 625.6,217.2 622.8,217.9 620.2,219.0 616.7,219.7 615.4,217.6 617.5,215.8 618.1,213.7 616.2,212.6 616.7,210.1 620.2,209.4 620.7,206.9 623.3,206.2 626.2,206.5 627.7,208.3 627.7,209.7 626.2,211.2 626.2,213.3M623.6,196.2 625.9,195.1 626.2,196.5 624.1,197.6 623.6,196.2M633.8,193.0 635.3,192.6 635.1,193.3M638.5,187.3 639.5,188.7 639.0,189.8 638.5,187.3M623.6,181.6 625.1,181.6 624.6,182.6M665.2,207.6 666.0,206.9M670.7,204.0 673.8,203.7 675.4,204.7 674.3,206.5 671.7,206.2 670.7,204.0M668.1,205.5 670.4,205.5 670.4,206.9 668.3,206.5 668.1,205.5M681.2,206.5 681.9,206.9M685.6,202.6 687.2,199.0M690.1,200.1 692.1,196.9 691.6,198.7 690.1,200.1M700.0,194.8 703.1,194.8 701.3,195.8 700.0,194.8M700.8,193.0 702.6,193.3M694.0,188.3 695.5,188.7M663.9,256.5 666.5,256.5 668.1,259.0 667.5,263.6 666.0,264.3 664.4,263.6 664.4,259.7 663.9,256.5M664.9,252.2 667.0,250.1 667.3,253.3 666.5,255.8 665.2,254.3 664.9,252.2M675.1,267.9 677.5,267.2 683.2,266.8 681.9,270.4 681.9,272.5 679.6,271.5 675.9,269.3 675.1,267.9M703.9,277.5 706.5,277.2 711.3,277.9 707.9,278.6 703.9,277.5M727.0,278.6 729.6,277.5 733.0,276.1 731.4,278.6 728.8,280.0 727.0,278.6M648.7,262.5 651.0,261.1 650.8,262.9 648.7,262.5M645.8,264.3 646.6,264.0M652.9,260.8 653.7,261.1M703.7,265.4 705.5,265.8 706.8,267.9 703.7,265.4M711.0,263.3 712.0,264.0M710.5,266.1 710.7,267.2M715.4,273.6 716.2,275.0M707.6,268.3 709.2,271.5M694.0,261.5 694.8,262.9M696.1,266.8 696.6,267.5M598.2,302.1 600.0,301.8 599.2,303.2M601.0,303.6 602.1,303.9M605.2,301.4 606.0,302.5M606.3,299.7 607.1,300.0M597.4,286.4 598.4,286.8M574.9,268.6 576.4,268.6M567.8,266.1 569.1,266.1M579.6,344.3 580.9,349.6M582.2,345.7 582.7,346.4M787.7,138.0 785.1,140.5 781.2,143.0 778.5,145.5 777.5,148.0 781.7,150.2 786.4,151.6 792.9,151.6 793.2,149.1 789.8,146.6 789.0,143.7 791.6,141.2 795.0,138.0M782.5,142.3 786.4,141.6 789.8,141.9M768.9,156.2 772.0,155.5 773.8,156.9 770.7,158.4 768.9,156.2M795.6,153.0 800.3,153.7 800.3,154.8 796.9,154.4 795.6,153.0M1109.7,149.8 1113.6,148.4M1113.6,150.2 1109.7,149.8M1001.1,138.4 1006.3,140.9 1012.9,140.9 1016.8,141.9 1011.5,139.8 1008.9,138.4M1008.9,141.9 1014.2,141.9 1018.1,141.9M1024.6,138.4 1032.5,138.4M618.8,150.5 621.5,149.8M692.1,138.0 692.7,137.7M1016.0,209.7 1017.3,215.1 1017.6,220.4 1018.6,225.1 1020.7,228.6 1017.6,227.6 1016.5,232.2 1018.1,236.5 1017.8,238.6 1015.7,236.9 1014.2,239.4 1013.9,234.7 1014.4,230.4 1014.4,225.1 1013.4,219.0 1013.6,213.7 1016.0,209.7M1013.9,241.1 1017.3,244.7 1020.7,246.5 1023.1,245.4 1022.5,249.0 1019.4,250.4 1017.6,253.6 1013.9,251.5 1011.3,252.2 1012.1,254.3 1009.4,255.8 1008.9,252.6 1010.2,249.0 1012.6,249.0 1013.4,244.3 1013.9,241.1M1011.3,255.4 1012.9,259.0 1014.2,262.5 1012.9,266.8 1011.5,268.6 1011.3,271.8 1010.5,275.7 1008.7,277.9 1008.1,276.5 1005.8,279.7 1001.9,280.0 1000.8,281.1 997.9,284.0 996.1,281.1 993.2,280.0 989.3,281.1 985.4,282.5 985.1,281.1 988.8,277.5 991.4,276.8 996.6,276.1 998.5,274.3 1000.5,271.5 1001.9,272.2 1005.3,268.6 1007.6,266.1 1008.9,261.5 1008.9,258.6 1009.7,256.5 1011.3,255.4M985.1,282.5 987.5,284.0 988.0,286.4 986.4,291.4 984.6,292.5 983.3,291.4 984.1,287.5 982.0,285.7 982.5,283.6 985.1,282.5M988.5,282.9 991.4,281.1 994.8,281.5 993.7,284.0 991.1,285.7 989.6,286.1 988.5,282.9M1023.3,247.2 1025.9,245.1M1027.0,244.7 1032.0,241.1M1033.8,240.4 1036.4,238.6M1042.4,234.0 1043.0,233.3M1049.0,224.7 1050.8,222.6M1076.5,206.2 1078.0,208.0M1080.7,208.0 1081.7,208.7M1094.3,214.7 1096.1,215.1M1106.6,217.9 1107.4,218.3M1111.0,219.7 1111.8,220.1M978.3,307.9 976.7,310.0M981.4,302.1 980.9,302.9M984.1,295.0 984.3,295.4M972.8,284.3 974.6,284.0 973.8,285.0 972.8,284.3M960.5,313.2 961.5,314.6 960.5,319.6 958.7,325.3 956.8,321.4 958.4,316.1 960.5,313.2M927.0,334.6 929.1,332.1 932.0,331.8 933.0,333.5 931.7,336.4 929.3,338.5 927.0,337.5 927.0,334.6M958.4,337.5 961.8,337.5 963.1,342.1 960.5,346.7 961.0,351.7 963.1,352.8 966.8,354.2 967.3,358.5 965.2,357.1 963.1,355.0 961.0,353.9 958.1,352.8 958.9,351.4 956.8,350.3 956.3,345.7 957.6,343.5 957.6,340.7 958.4,337.5M971.0,368.5 973.1,372.1 973.6,377.4 972.8,381.0 970.7,382.1 971.5,378.1 970.4,378.9 967.6,381.4 966.8,376.4 962.3,378.5 962.1,375.6 965.2,372.8 967.6,374.2 969.1,371.4 971.0,368.5M967.8,358.9 970.4,358.9 971.5,363.5 969.7,363.9 969.4,366.7 968.1,364.6 967.8,358.9M961.8,366.0 964.4,362.1 964.7,366.4 963.4,369.9 961.8,366.0M965.5,364.6 967.0,363.5 965.7,369.2 965.5,364.6M957.6,355.3 960.5,355.7 960.0,359.6 958.7,358.2 957.6,355.3M949.2,373.5 952.6,369.2 955.3,364.9 954.7,366.7 951.3,371.7 949.2,373.5M961.5,360.7 962.1,361.4M966.3,359.2 967.0,360.7M927.8,396.3 929.3,397.1 931.2,397.4 933.5,398.5 934.0,394.9 938.2,392.1 940.9,387.1 944.0,385.6 946.1,381.7 948.2,378.9 950.0,380.6 952.1,383.9 954.5,384.9 951.9,387.8 950.3,388.5 951.1,391.7 950.8,396.3 953.7,399.9 950.8,400.6 950.0,404.9 948.2,408.1 946.9,412.4 946.6,416.7 942.7,418.1 942.2,415.6 939.0,415.3 935.6,415.6 934.3,413.8 930.9,413.8 930.4,408.8 928.6,405.6 927.8,402.1 927.8,396.3M891.9,383.5 895.0,384.9 897.7,384.9 899.8,388.1 902.9,392.1 905.5,395.6 908.1,396.7 910.7,399.9 913.4,403.1 914.2,407.0 916.0,410.3 919.4,412.0 919.9,414.9 919.4,418.8 919.4,424.2 916.5,424.2 915.5,421.3 910.7,418.1 908.1,413.5 905.5,408.5 902.9,403.5 901.1,397.8 898.4,394.2 895.0,390.3 892.4,386.4 891.9,383.5M917.8,427.7 919.9,424.5 922.0,424.9 925.7,426.0 927.0,427.7 930.4,428.1 932.5,426.3 934.3,427.0 937.2,428.1 937.7,430.2 940.9,430.6 942.2,434.5 938.2,433.1 934.3,433.1 930.4,431.7 926.5,431.3 923.8,431.0 921.0,429.9 917.8,427.7M937.5,428.5 940.9,428.1 939.5,429.2 937.5,428.5M942.2,432.7 945.0,433.5 944.0,434.9 942.2,432.7M946.1,433.5 947.9,433.5 947.1,435.2 946.1,433.5M948.2,433.8 951.9,433.1 953.9,433.8 952.1,434.9 948.7,435.6 948.2,433.8M953.9,437.0 957.1,437.7 958.7,439.9 956.0,439.2 953.9,437.0M956.3,433.8 959.2,433.5 963.9,432.7 963.9,434.2 960.5,435.2 956.3,434.5 956.3,433.8M966.0,440.2 968.3,436.3 972.3,434.2 975.4,433.5 973.6,435.6 969.7,438.8 967.0,440.2 966.0,440.2M955.5,403.5 956.6,400.6 958.9,398.8 963.9,399.9 967.8,399.9 970.2,397.8 968.3,401.7 965.2,402.1 960.5,401.7 957.3,402.4 956.6,406.3 959.2,408.5 961.8,406.7 965.2,406.3 963.1,409.2 961.0,410.3 963.1,415.3 964.9,418.8 964.4,422.7 961.8,420.2 960.5,417.8 959.2,413.5 957.3,413.8 957.6,420.6 955.3,423.1 955.3,416.0 953.4,413.5 954.7,408.5 955.5,403.5M976.5,395.6 978.0,398.5 979.3,399.9 977.5,401.7 977.5,406.3 976.5,403.5 976.2,399.2 976.5,395.6M978.0,413.8 981.4,413.5 984.8,414.9 984.1,417.0 980.1,416.0 978.0,413.8M972.3,414.9 975.4,415.3 974.4,417.0 972.3,414.9M968.1,409.5 970.4,409.9 972.3,409.9M985.4,431.0 987.2,429.2 986.9,432.0M994.0,423.5 995.0,426.0 993.7,427.7 994.0,423.5M985.4,406.3 988.8,404.9 993.2,406.3 995.8,415.3 998.5,411.7 1003.2,408.8 1007.6,411.0 1011.5,412.8 1016.3,415.3 1020.7,417.4 1024.1,422.4 1028.6,424.9 1026.7,428.1 1029.9,432.0 1034.6,438.8 1037.2,441.3 1033.8,440.6 1029.3,439.5 1024.6,433.5 1020.7,430.6 1018.1,433.8 1015.5,436.3 1011.5,435.9 1008.4,432.4 1004.2,433.1 1006.3,429.2 1003.7,423.8 998.5,419.9 993.2,417.4 990.6,418.1 990.1,415.3 992.7,412.4 988.5,411.7 985.1,408.5 985.4,406.3M1030.7,423.1 1036.4,423.1 1039.6,418.5 1041.1,418.8 1040.3,423.1 1036.4,426.0 1032.5,425.2 1030.7,423.1M1037.2,413.1 1041.1,416.0 1043.0,419.5M1047.4,422.7 1050.3,427.7M1052.1,427.4 1054.7,429.9M1055.0,430.2 1060.8,433.8M1060.2,436.7 1063.4,438.8M1063.1,433.5 1064.7,437.4M1065.2,440.2 1067.3,442.0M1078.6,455.9 1080.1,459.9M1080.4,460.6 1081.7,462.4M1083.0,466.3 1083.5,467.0M1071.8,475.2 1075.7,479.1 1079.6,483.4 1076.5,481.6 1073.1,478.1 1071.8,475.2M1106.6,465.6 1110.0,466.6 1107.9,468.4 1106.6,465.6M1110.5,462.4 1113.6,461.3M851.3,368.9 854.2,371.4 856.6,376.0 856.0,380.3 853.4,382.4 851.6,379.2 851.3,374.9 851.3,368.9M885.1,355.3 885.9,360.0 884.8,362.1M888.0,377.8 887.7,378.5M834.3,390.6 834.3,392.4M808.1,473.8 808.6,473.8M792.4,474.8 793.7,475.9 792.7,476.6 792.4,474.8M787.2,478.1 788.5,479.1 787.4,479.5 787.2,478.1M755.8,445.2 756.3,445.9M758.4,447.0 758.9,447.4M760.5,449.2 760.7,449.5M787.4,419.9 787.7,420.2M782.5,358.5 784.8,358.9M746.3,421.0 746.6,422.7M745.3,424.2 745.8,426.0M665.2,390.3 665.4,391.7M659.7,402.4 659.9,403.1M796.1,330.7 796.6,330.0M774.6,310.0 774.9,311.1M771.5,446.3 773.8,453.4 774.6,458.8 772.5,459.1 771.7,464.1 771.7,468.1 770.2,474.8 768.6,482.0 766.8,489.1 765.4,492.7 761.8,494.5 760.5,494.8 757.6,492.3 756.8,487.0 755.8,482.0 758.4,475.9 758.9,471.3 757.6,467.0 758.9,461.3 763.6,459.5 766.0,457.0 767.8,455.6 769.1,451.6 771.5,446.3M1015.5,441.7 1018.1,448.1 1018.9,454.9 1022.8,456.6 1023.1,462.0 1024.9,467.3 1025.4,470.9 1029.1,473.4 1032.0,475.9 1033.3,480.2 1035.9,483.4 1037.5,487.3 1040.3,491.3 1043.2,495.2 1043.5,500.5 1044.3,505.2 1043.5,510.5 1042.7,515.9 1041.4,519.4 1039.0,522.3 1038.2,524.8 1037.2,528.4 1035.6,531.9 1034.8,536.6 1032.5,538.4 1029.3,539.1 1026.7,541.6 1025.4,543.0 1023.3,540.1 1021.2,539.8 1018.1,541.9 1014.9,540.5 1011.5,539.1 1008.9,536.9 1008.1,533.0 1006.3,530.5 1003.9,530.5 1005.0,528.0 1003.9,525.5 1003.2,528.7 1001.1,529.1 1002.4,525.1 1003.4,521.9 1003.2,519.8 1001.9,522.3 1000.0,524.8 998.2,527.6 996.4,526.2 993.7,521.2 990.6,518.0 986.7,515.9 982.7,516.2 978.8,517.7 974.9,518.7 971.0,520.2 967.0,521.9 965.2,524.4 961.8,524.4 957.9,524.4 954.7,526.2 951.3,528.4 947.4,528.4 944.0,526.2 943.5,523.4 945.0,522.3 945.3,517.7 944.0,512.3 942.4,506.2 941.1,501.6 939.5,497.0 940.9,497.0 939.8,492.0 939.5,487.3 940.3,483.8 941.4,481.3 943.5,480.2 947.4,477.3 950.5,477.0 953.9,474.8 957.9,474.1 960.5,472.0 962.6,467.7 962.3,464.8 964.4,462.4 966.0,465.2 967.0,461.6 969.7,458.4 971.7,454.5 974.9,453.1 977.5,456.3 979.3,456.6 981.4,456.3 981.7,452.7 983.5,449.5 984.8,447.7 986.7,447.0 989.3,446.3 989.6,444.2 991.9,445.6 995.8,447.0 998.5,447.0 1000.5,447.0 999.8,450.9 998.2,453.4 997.1,457.0 999.8,459.9 1002.9,461.6 1006.3,464.1 1008.9,466.6 1011.0,465.6 1012.3,461.3 1013.4,456.3 1013.1,451.6 1013.6,447.4 1014.7,442.7 1015.5,441.7M1021.2,548.7 1024.6,550.1 1028.6,549.4 1030.7,549.8 1030.4,554.0 1029.3,557.6 1026.7,559.0 1024.6,558.7 1022.8,555.1 1021.5,551.6 1021.2,548.7M1000.0,531.2 1002.9,530.5 1003.9,531.6 1001.1,531.9 1000.0,531.2M1019.4,545.1 1019.7,546.2M1029.9,545.5 1030.7,547.3M983.3,444.2 986.1,443.8 985.4,445.6 983.3,444.2M999.8,453.4 1001.1,453.1M1006.8,462.4 1008.1,462.4M1043.2,492.0 1043.7,494.8M1094.5,526.6 1096.6,528.4 1099.0,530.9 1100.0,534.8 1101.9,534.1 1103.2,537.6 1105.8,538.7 1109.2,537.6 1109.2,540.8 1107.1,543.3 1105.8,544.4 1105.3,547.6 1103.2,550.8 1101.1,551.9 1099.8,550.8 1100.8,548.0 1100.0,545.8 1097.4,544.1 1099.2,541.9 1100.0,538.7 1099.2,535.5 1097.4,531.9 1095.3,529.1 1094.5,526.6M1094.5,548.0 1095.8,550.5 1098.5,550.5 1098.5,552.6 1095.8,556.9 1094.5,559.0 1090.9,561.5 1090.1,565.8 1088.8,567.6 1086.2,569.7 1083.0,569.7 1080.7,568.3 1078.3,566.9 1080.9,563.3 1083.5,560.5 1087.5,557.6 1090.1,554.4 1091.4,552.3 1093.0,549.1 1094.5,548.0M1080.9,570.8 1082.8,570.8 1082.2,571.9 1080.9,570.8M822.5,577.6 826.4,578.3 827.0,580.1 823.8,580.5 822.5,577.6M741.1,570.8 741.6,570.8M777.8,569.0 778.3,569.0M845.3,541.6 845.6,541.6M627.5,460.4 627.7,460.4M604.7,431.7 605.0,431.7M610.2,535.9 610.5,535.9M616.2,547.3 616.5,547.3M651.0,597.6 651.3,597.6M1077.0,584.4 1077.5,584.7M1085.1,590.8 1085.4,591.2M485.3,669.3 482.7,665.7 484.0,662.2 481.4,658.6 482.7,655.0 480.1,652.5 478.8,649.0 474.9,647.9 472.2,644.3 474.9,640.8 478.8,638.6 482.7,635.4 486.6,632.9 489.3,630.4 493.2,629.3 492.4,630.8 488.5,631.5 484.0,632.5 480.1,634.3 476.2,636.1 473.5,638.6 470.1,640.0 467.5,643.2 465.7,646.1 467.0,649.3 463.9,651.5 463.1,655.0 465.7,658.6 465.7,662.5 459.1,664.7 452.6,665.4 446.1,665.7 440.8,665.0 435.6,664.7 430.3,665.4 433.0,669.3M463.1,645.0 461.2,644.3 461.8,642.5 464.4,643.2 463.1,645.0M459.1,649.7 455.2,649.7 452.6,653.2 450.0,657.5 446.1,659.7 448.7,662.5 455.2,662.5 460.5,661.8 463.1,658.6 460.5,654.3 459.1,649.7M481.4,626.5 485.3,626.5 489.3,624.7 491.1,624.3M495.8,621.8 498.4,621.5M522.0,619.7 524.6,620.1 525.6,620.2M476.7,634.0 478.8,632.5M494.5,629.0 497.1,629.3M380.6,661.1 385.8,660.0 389.8,660.7 385.8,662.5 380.6,661.1M380.6,669.3 376.7,666.8 372.8,664.7 367.5,665.7 362.3,669.3M346.6,669.3 341.3,667.5 333.5,667.2 325.6,667.5 317.8,667.2 309.9,668.2 302.1,668.9 294.2,669.3M590.0,669.7 597.9,667.5 604.4,663.6 608.4,661.4 612.0,660.0 616.2,660.7 621.5,658.9 626.7,658.6 631.9,658.2 637.2,658.6 641.4,658.9 646.3,657.2 650.3,656.8 655.5,655.7 659.9,655.0 664.7,654.3 668.6,654.7 673.8,654.0 677.7,653.6 681.7,654.3 686.6,654.0 692.1,654.7 694.8,654.7 700.0,655.4 705.2,655.4 710.5,655.0 713.4,654.7 717.0,654.0 720.9,652.5 726.2,651.1 730.6,649.0 734.0,650.7 739.3,652.5 742.7,654.0 746.3,650.7 749.7,649.0 756.0,646.8 760.2,645.4 765.4,644.7 770.7,642.5 775.9,639.7 781.2,638.6 786.4,639.3 791.6,641.1 795.6,643.2 799.5,644.0 804.7,644.7 810.0,644.3 815.2,645.0 820.4,645.4 824.4,648.2 825.7,652.5 821.7,655.0 819.1,658.6 821.7,661.4 827.0,659.3 830.9,656.1 834.8,652.5 840.1,651.8 845.3,650.4 847.9,647.5 851.8,646.1 857.1,644.0 862.3,642.9 867.6,642.2 872.8,641.1 878.0,641.5 883.3,641.1 888.5,640.4 893.7,640.8 899.0,639.7 904.2,638.6 909.4,637.5 914.7,638.6 919.9,640.0 925.1,641.5 930.4,640.0 935.6,638.3 940.9,639.3 946.1,641.5 951.3,642.2 956.6,641.8 961.8,641.1 967.0,641.1 972.3,640.0 977.5,642.2 982.7,639.7 988.0,639.7 993.2,639.3 998.5,640.0 1003.7,640.8 1008.9,641.5 1014.2,641.8 1019.4,642.5 1024.6,645.0 1029.9,646.8 1035.1,647.5 1040.3,648.6 1045.6,649.0 1050.8,650.4 1056.0,650.4 1061.3,652.2 1066.5,654.3 1071.8,655.0 1077.0,655.4 1082.2,656.8 1087.5,658.2 1090.1,660.4 1087.5,663.9 1082.2,666.8 1078.3,669.3M766.8,240.8 770.7,237.6 775.9,236.5 781.2,236.5 781.2,241.8 776.7,242.2 775.9,244.7 774.1,244.7 777.2,249.3 780.4,251.8 779.8,254.3 783.0,253.3 785.1,255.4 781.9,257.5 780.6,256.5 781.2,260.8 783.3,263.6 783.5,270.4 783.3,271.8 778.5,272.9 774.1,270.4 770.7,266.8 770.4,266.5 771.5,263.3 772.0,259.7 774.1,259.3 771.2,256.1 769.6,254.3 766.8,250.1 766.2,247.2 764.7,244.7 766.8,240.8M401.3,236.9 405.5,236.5 409.4,235.8 411.5,234.4 412.8,236.1 415.9,237.6 419.9,236.9 421.2,237.6 420.7,234.4 417.8,232.2 415.9,229.7 411.2,229.0 408.6,232.2 405.5,234.0 401.3,236.9M413.1,254.7 415.2,254.3 416.5,250.8 415.9,246.5 418.6,242.9 419.9,240.1 415.9,239.7 413.3,242.9 412.0,244.7 413.3,245.8 412.5,250.1 413.1,254.7M420.7,239.7 423.8,241.8 424.3,245.4 422.8,247.6 426.4,250.1 428.5,248.3 429.6,243.6 433.0,244.7 433.0,241.8 429.0,239.4 423.8,239.0 420.7,239.7M424.1,254.7 427.7,255.4 431.7,253.6 435.6,250.8 431.7,251.5 427.7,252.9 424.8,253.3 424.1,254.7M433.5,249.0 438.2,249.0 442.7,248.3 442.9,246.1 439.5,246.5 435.6,247.2 433.5,249.0M1014.4,306.8 1014.7,307.5M1012.3,315.0 1012.6,315.0M1023.8,338.5 1024.1,339.3M1023.8,348.9 1024.1,350.0M1021.2,355.0 1021.8,356.0M1003.9,369.2 1004.2,369.6M994.5,376.0 994.8,377.4M1039.8,376.7 1040.1,377.1M1056.3,378.5 1056.8,378.9M1069.1,384.2 1069.1,384.6M1095.1,396.7 1095.3,398.5M1099.8,407.8 1100.0,408.8M1079.3,405.3 1079.6,405.3M1026.5,410.6 1028.0,411.0M1076.5,441.7 1077.0,442.0M1043.7,443.8 1044.8,444.5M1105.8,448.1 1106.1,448.1M1084.3,473.1 1085.9,473.4M1086.9,475.6 1087.2,475.9M1082.0,507.0 1082.2,507.3M1058.8,516.1 1058.9,516.2M356.0,500.2 356.3,500.5M1111.5,462.7 1113.4,461.6M893.2,393.8 894.8,394.9M897.1,398.5 898.4,401.0M900.8,407.0 902.1,409.9M903.9,412.8 905.3,414.5M910.0,422.4 910.5,423.1M918.1,409.9 920.4,409.2 921.7,412.8 919.9,414.2 918.1,409.9M924.1,412.8 925.7,413.1 925.7,414.9 924.4,414.5 924.1,412.8M915.7,400.3 916.2,400.6M925.7,389.6 925.9,390.3M964.4,433.1 966.8,433.1M967.8,433.1 969.7,432.7M973.8,430.6 974.4,431.3M981.4,431.7 982.2,432.0M977.2,415.3 978.3,416.7M983.3,403.8 985.4,404.6M964.2,421.7 964.9,423.1M961.5,422.0 961.8,422.7M957.6,424.9 957.9,426.3M950.0,388.9 951.1,389.2M956.0,361.0 957.1,360.3M961.5,330.7 961.8,330.3M941.4,324.3 941.6,324.3M962.3,296.1 962.6,296.4M967.6,316.4 967.8,316.4M966.5,316.8 966.8,316.8M979.9,304.3 980.1,303.9M985.4,293.9 985.6,295.0M464.4,153.7 459.1,155.1 461.8,156.2M457.8,151.2 453.1,153.0M453.9,149.4 448.1,150.9 450.0,152.3M447.4,147.7 442.1,148.7M467.8,159.4 462.8,160.9 464.4,162.3M473.5,161.2 469.1,163.0M477.5,165.1 473.5,165.9M440.8,144.1 436.9,145.9 433.0,145.5M431.7,146.6 426.4,148.0 422.5,149.4M417.3,150.2 413.3,147.3M412.0,146.6 415.9,144.4M456.5,159.1 451.3,157.6M448.7,155.5 443.4,154.4M469.6,165.1 465.7,163.7M472.2,175.1 468.3,173.3M463.1,173.3 459.1,171.6M456.5,173.3 452.6,171.6M436.9,168.3 433.0,166.9 431.7,164.4M447.4,162.3 450.0,161.2M336.1,146.6 344.0,148.0 349.2,146.2M353.1,153.7 359.7,155.1 362.3,153.0M370.1,151.9 364.9,150.2 366.2,147.7M349.2,156.2 344.0,155.5M329.6,140.9 336.1,140.2M323.0,143.0 328.2,144.8M319.1,145.5 324.3,146.6M346.6,139.8 354.4,141.2 361.0,139.8M363.6,138.4 370.1,139.8 375.4,138.7M380.6,151.9 384.5,150.9 388.5,152.3M381.9,143.7 385.8,145.2M397.6,141.9 401.5,143.4M396.3,138.4 404.2,138.0M412.0,138.0 419.9,138.7 427.7,138.0M433.0,138.4 439.5,138.7M406.8,153.7 410.7,152.3M415.9,157.3 419.9,159.1M425.1,159.1 427.7,160.9M393.7,151.9 397.6,153.0M378.0,158.4 381.9,157.6M368.8,159.1 372.8,158.4M355.7,159.8 358.4,158.7M329.6,153.0 333.5,151.6M311.2,153.7 308.6,152.6M298.1,153.7 302.1,153.0M290.3,157.3 294.2,158.0M307.3,156.2 303.4,156.9M434.3,201.9 435.1,204.4M433.2,203.0 434.0,204.7M431.7,214.4 433.7,215.1M430.3,182.3 433.0,184.0M473.5,188.3 474.9,191.2M478.8,198.3 476.2,197.2M482.7,204.0 480.1,203.3M487.4,207.6 484.0,208.7M491.9,211.9 487.9,212.9M495.8,216.2 493.2,216.9M484.0,211.5 481.4,213.7M506.3,173.7 511.5,173.3M505.0,168.7 510.2,168.0M503.6,164.4 508.9,164.1M508.9,158.0 510.2,160.1M499.7,150.2 506.3,149.1M497.1,146.6 502.3,145.9M496.3,143.0 499.7,142.3M494.5,140.2 497.1,139.4M515.4,185.1 519.4,183.7M520.7,187.6 524.6,185.8M525.9,189.0 528.5,186.5M531.9,182.3 529.8,180.8M535.1,177.3 532.4,175.8M536.9,173.3 534.3,171.9M542.9,169.4 541.6,166.9M548.2,168.0 546.8,165.1M556.0,162.3 554.7,160.1M563.9,159.8 562.6,157.6M571.7,158.7 570.4,156.2M577.0,155.5 573.0,153.7M574.3,152.6 567.8,150.9 571.7,150.2M578.3,150.2 574.3,148.0M582.2,147.7 577.0,146.6M579.6,143.7 574.3,143.0M584.8,141.9 579.6,140.5M586.1,139.8 582.2,138.7M285.0,196.5 287.7,196.9 289.0,199.0 286.4,198.7 285.0,196.5M288.2,199.4 289.8,202.6 289.2,200.8M289.5,195.8 291.6,198.7 290.5,199.7M291.6,200.1 294.2,201.5 292.9,202.6M292.6,203.0 295.5,205.5 296.3,208.0 293.7,206.2 292.6,203.0M297.4,204.0 299.4,205.8 298.1,206.5M294.7,201.9 296.8,203.0M300.8,210.1 303.4,212.6M303.4,213.7 305.2,215.8M306.0,216.2 307.8,218.7M308.6,221.9 311.2,224.0M314.4,224.0 316.5,226.2M281.6,193.0 285.0,194.0M277.2,189.8 279.8,191.2M256.2,187.6 257.6,188.7M253.6,188.3 254.9,189.8M242.4,194.4 244.5,195.8M240.5,198.0 242.6,198.7M222.7,194.0 226.1,193.3M216.2,178.0 213.6,178.7M207.3,182.3 209.1,183.3M220.9,193.0 218.8,194.0M205.7,212.2 207.3,211.5M196.6,215.4 198.1,214.7M656.8,185.1 660.7,185.5M656.3,188.7 659.4,188.3 660.2,189.8M657.6,191.9 659.4,191.5M659.4,181.2 662.0,180.1M664.7,178.0 667.3,177.6M670.7,175.5 672.2,173.7M675.1,170.8 677.0,168.7M677.7,166.6 680.4,164.8M681.7,161.9 684.3,160.9M676.4,160.9 680.4,159.4 683.0,158.0 685.1,157.3M683.0,159.4 685.6,158.7M688.2,156.2 690.8,154.8M693.5,153.4 696.1,153.7M698.7,152.3 701.3,151.2M703.9,151.6 706.5,150.5M707.9,151.9 709.2,153.7M711.8,150.5 713.1,151.9M717.0,150.9 718.3,153.0M719.6,153.0 722.3,152.3M684.3,138.0 688.2,138.4M697.4,188.7 700.0,189.0M696.1,178.0 698.7,177.6M706.5,171.6 707.9,171.9M735.3,171.6 736.7,171.2M701.3,193.3 702.6,194.4M625.9,198.3 627.2,199.4M625.6,201.9 627.0,202.6M625.9,204.4 627.0,204.7M622.8,198.3 623.6,199.7M616.2,211.2 617.5,211.5M616.5,218.7 617.5,219.0M447.4,583.7 450.0,582.6M446.6,578.3 448.7,577.2M447.4,574.7 449.5,573.7M448.7,567.6 450.5,565.8M450.0,562.3 451.3,560.5M446.8,587.2 449.2,588.3M450.0,590.1 452.6,591.2M453.9,593.7 456.5,593.3M459.1,598.3 461.8,597.6M460.5,599.7 463.1,599.4M455.2,596.2 457.8,597.2M445.5,581.9 447.1,580.5M446.1,575.8 447.1,574.7M448.7,561.2 447.9,563.0M448.9,565.5 447.6,565.1M477.5,633.6 480.1,631.8M473.5,636.5 475.4,635.0M468.3,640.8 470.1,639.0M464.4,644.3 466.2,643.6M485.3,631.1 487.9,630.0M489.3,632.9 491.9,631.8M483.2,627.6 485.3,626.8M487.2,626.1 489.3,625.4M1062.6,155.1 1065.2,156.2M1041.6,150.5 1044.3,150.2M1002.4,149.1 1005.0,148.0M974.9,145.2 978.8,145.9M965.7,141.6 971.0,142.3M938.2,139.8 942.2,140.9M922.5,142.3 926.5,141.9M840.1,143.4 844.0,144.4 849.2,143.7M849.2,141.9 853.2,140.9M837.4,143.0 840.8,141.9M827.0,141.6 829.6,142.3M799.5,153.7 802.1,154.4M1035.1,191.9 1037.7,190.8M1048.2,192.3 1050.8,190.1M1069.1,189.4 1071.8,189.8M1001.9,207.2 1003.7,208.0M1003.2,209.7 1004.2,210.8M1088.8,189.4 1091.4,188.3M273.3,155.1 273.3,188.3 278.2,189.0 282.4,193.3 285.3,191.2 287.7,190.1 289.0,191.9 293.2,195.1 297.4,201.5 301.8,203.3 302.1,206.2 300.5,208.3M320.1,228.6 393.2,228.6 393.3,227.2 394.7,229.7 398.9,230.1 402.9,231.9 406.8,231.9 408.4,232.2 411.0,231.1 417.3,233.6 420.4,236.1 421.4,237.6 423.5,239.0 424.1,240.1 426.4,241.8 426.7,250.1 424.8,252.6 424.8,253.6 426.4,254.7 430.3,252.9 435.6,250.8 435.5,249.2 436.9,247.9 441.3,247.9 442.7,245.8 445.3,243.6 446.8,242.9 455.2,242.9 456.3,241.8 458.4,239.7 459.1,236.9 461.2,234.2 463.6,234.5 464.9,235.5 464.9,240.4 465.8,241.8 467.0,243.3M335.8,287.5 342.1,286.8 341.9,287.5 351.5,291.8 359.1,291.8 359.1,290.0 363.6,290.0 367.5,293.9 368.8,297.9 372.2,300.0 374.1,297.2 376.9,297.2 379.8,302.5 381.9,305.4 383.0,309.3 385.3,310.4 387.9,311.1M401.0,351.7 401.0,348.9 402.3,346.0 405.7,346.0 405.7,345.0 403.1,342.1 404.2,341.9 404.2,340.0 409.0,340.0 411.2,337.5M409.0,340.0 408.9,346.7 409.7,346.7M411.2,347.5 408.9,350.3 408.5,352.1 406.5,354.4M408.5,352.1 410.7,353.9 412.5,355.7M413.9,357.1 415.4,356.0 417.3,353.9 419.9,351.4 422.5,351.0 424.6,350.0M418.0,363.9 420.7,364.2 423.3,364.9M425.4,374.2 425.4,371.4 426.2,369.4M438.7,377.8 440.3,375.3 439.8,372.4M454.7,332.8 454.7,336.4 453.9,337.1 454.7,338.9M455.7,361.4 453.1,363.9 451.3,368.5 452.6,373.2 452.9,377.1 458.9,378.5 460.7,381.7 465.7,381.4 464.9,387.4 466.2,391.3 464.6,393.5 466.5,395.3 467.3,399.2M467.3,399.2 466.7,397.4 459.7,397.4 459.7,399.6 461.2,399.9 460.7,405.3 459.1,404.2 459.4,418.5M459.4,418.5 457.3,417.0 453.9,412.4 450.8,411.7 447.6,405.3 445.3,403.8 442.7,402.1 439.5,401.3 436.1,398.5M445.3,403.8 444.5,408.8 441.6,412.8 437.7,415.6 437.2,419.5 435.6,421.3 432.4,418.8 432.2,415.6M459.4,418.5 451.6,422.0 449.2,428.1 448.7,430.2 451.3,436.7 453.4,439.2 457.6,437.4 457.6,442.7 460.2,442.5M460.2,442.5 462.5,448.1 461.8,452.0 461.2,458.1 460.2,459.1 461.2,461.3 460.5,465.6 458.4,469.0M460.2,442.5 463.6,442.7 468.0,438.8 471.4,438.4 471.2,445.2 473.8,447.7 478.0,449.9 480.6,451.6 484.0,452.7 484.8,461.6 489.5,461.6 489.8,465.2 491.9,468.4 490.3,474.1 490.0,475.4M490.0,475.4 487.7,472.3 480.9,473.4 479.3,476.6 478.4,482.9 474.1,484.8 473.8,482.3 470.4,482.3 466.5,484.8 464.4,480.2 463.1,474.8 461.8,471.3 460.5,465.9M466.5,484.8 467.0,485.5 463.3,490.9 463.1,499.8 459.9,504.8 459.1,511.6 457.8,515.9 459.1,521.9 459.7,525.9 457.8,531.9 456.5,537.3 455.5,542.3 454.4,548.0 454.4,553.3 454.7,558.7 455.2,564.0 454.4,569.4 452.6,574.7 450.8,580.1 452.9,584.4 453.9,589.0 459.1,589.0 463.3,590.3M462.8,591.3 462.8,599.4M478.4,482.9 482.7,488.4 487.9,491.3 491.6,494.1 489.0,500.5 494.5,501.2 496.6,500.9 499.5,494.8M490.0,475.4 490.8,482.3 496.3,483.0 497.4,489.1 500.2,489.1 499.5,494.8 501.8,497.3 501.6,500.5 496.3,504.5 491.6,511.2 490.0,517.7 489.5,524.4M491.6,511.2 495.8,513.4 498.4,515.2 501.0,517.3 503.1,520.2 502.6,523.7M467.3,399.2 470.9,400.6 474.9,398.1 474.9,394.6 476.4,395.3 473.5,388.9 477.5,389.9 478.0,388.9 482.7,387.4 483.5,384.9 481.7,382.4 482.4,379.6 484.5,378.5 485.3,373.5 485.8,373.9M483.5,384.9 485.3,385.3 485.6,387.8 486.1,391.0 485.3,396.3 487.9,398.8 490.6,398.1 494.5,396.7 496.1,396.3 499.5,395.3 503.9,395.6 507.1,388.9M492.7,382.4 492.4,385.6 490.6,389.2 491.9,391.7 494.5,396.7M501.0,383.1 500.0,385.6 501.0,391.0 499.5,395.3M619.4,254.0 620.9,253.3 625.1,254.0 626.2,255.1 624.3,257.2 624.1,261.8 622.8,262.2 624.1,267.2 623.0,270.8M637.7,248.6 640.6,250.4 644.2,251.1 646.9,251.8 650.8,252.2M662.0,247.2 660.7,245.8 660.5,242.6 660.7,239.7 658.4,238.6 658.4,237.2 660.7,234.0 662.3,233.6 663.9,228.6 659.2,226.9 657.6,226.9 655.0,225.1 653.4,225.4 650.8,222.6 648.9,221.2M651.3,220.1 653.7,220.1 655.5,219.7 657.6,220.8 657.3,222.2 658.1,222.2 659.2,224.0 658.4,224.7 659.2,226.9M658.1,222.2 658.1,218.7 660.2,217.9 660.7,215.8 661.3,213.3M665.2,207.6 667.5,208.0M679.8,211.2 680.1,214.4 680.9,217.9 681.7,221.5 681.2,221.9 676.4,223.3 674.1,224.0 675.1,226.2 678.5,229.4 676.4,231.1 676.4,234.0 673.8,233.6 669.9,234.4 667.5,234.0 664.9,232.9 662.3,233.6M660.7,239.7 663.3,239.0 664.7,237.9 666.0,240.1 666.8,237.9 669.9,236.5 667.5,235.4 667.5,234.0M669.9,236.5 674.3,235.8 674.9,236.9 678.3,237.6 678.0,239.7 678.5,240.8M678.3,237.6 681.7,237.2 684.6,236.5 685.6,234.0 687.2,232.2 686.6,230.1 681.7,228.6 680.9,230.1 678.5,229.4M681.2,221.9 684.8,222.9 686.6,224.0 688.7,224.0 691.6,226.9 688.7,229.0 686.6,230.1M691.6,226.9 694.8,227.9 697.4,227.2 701.3,228.3 701.8,226.5 705.2,222.9 704.2,219.7 704.2,215.8 705.0,211.2 703.9,211.0 702.1,209.4 694.2,209.4M702.1,209.4 701.8,207.6 697.9,206.2M697.5,203.4 702.1,202.2 707.6,202.2 712.0,204.7 709.9,207.6 709.2,210.1 703.9,211.0M712.0,204.7 716.2,203.1 714.9,198.7 714.1,198.3 714.1,193.7 715.7,191.2M706.2,197.0 709.4,196.5 711.8,198.3 714.1,198.3M716.2,203.1 723.3,205.1 723.6,208.3 728.0,212.6 724.6,213.7 725.7,217.6 722.3,220.4 715.2,219.7 708.6,218.3 704.2,219.7M725.7,217.6 732.2,218.7 735.1,223.3 741.9,225.4 747.4,226.5 746.3,232.9 742.4,235.4M700.4,230.8 702.4,232.2 707.6,233.3 712.0,231.3 716.2,231.5 718.8,232.6 720.9,237.9 716.2,241.1 720.2,242.2M712.0,231.3 716.0,236.5 716.2,241.1M701.3,228.3 700.4,230.8 694.8,231.5 691.6,232.9 687.2,232.2M702.4,232.2 697.9,237.9 695.5,238.8 691.9,239.7 687.7,239.4 685.6,237.6 684.6,236.5M678.0,241.1 680.4,241.1 682.5,241.1 683.5,238.6 685.6,237.6M692.1,243.3 686.6,242.2 683.8,242.2 683.8,244.0 685.6,246.5 688.2,249.7 690.8,251.5 692.7,248.3 693.2,245.4 692.1,243.3 691.9,239.7M695.5,238.8 698.4,242.2 701.3,244.0 701.8,245.8 701.0,249.3 701.0,252.6 698.7,252.7 696.3,254.0 694.8,251.5 692.7,248.3M694.8,251.5 693.2,254.0M696.3,254.0 696.1,256.1 696.9,257.5 695.5,261.5 694.8,261.8M696.9,257.5 700.0,256.8 702.4,255.9 701.0,252.6M702.4,255.9 706.5,255.4 710.7,256.1 711.5,254.7 715.7,253.6M711.5,254.7 711.3,256.5 710.5,258.1M701.8,245.8 705.2,247.6 710.5,247.2 713.6,246.1 717.3,247.6M671.5,193.0 673.3,190.5 674.3,185.8 674.1,183.3 674.6,181.2 673.8,177.3 678.0,175.1 680.4,170.5 682.7,166.9 685.3,162.6 689.8,159.1 696.1,157.1M696.1,157.1 698.2,156.2 704.5,158.4 709.7,156.6 710.5,154.1 715.7,153.4 718.3,156.9 723.0,154.4M696.1,157.1 704.2,161.2 704.2,166.2 705.5,168.7M718.1,157.1 717.0,160.1 720.9,161.9 718.3,164.8 721.2,169.1 719.9,171.9 722.5,175.1 724.9,179.1 720.7,184.8 715.2,187.4M623.3,207.2 621.2,209.0 623.6,210.1 625.9,210.5M747.1,248.6 753.7,249.3 758.9,251.1 763.9,254.0 767.5,256.5 769.6,254.3M751.2,255.4 754.5,255.4 756.3,256.8 760.2,256.1 764.7,256.1 763.9,254.0M756.3,256.8 756.8,260.4 759.7,261.8 764.1,264.7 768.1,261.8 770.4,266.5M760.2,256.1 761.8,257.9 762.8,260.0 764.1,262.5 764.1,264.7M759.7,261.8 758.6,266.5 759.7,270.8 753.4,271.1 747.1,272.2 741.9,272.2 738.5,272.5 738.0,274.3 736.7,275.4M753.4,271.1 750.3,279.3 744.0,284.3 738.7,288.2 736.1,286.8M736.4,279.8 738.2,281.5 736.1,284.7 734.3,285.4M736.1,284.7 736.1,286.8 735.5,291.1 734.0,298.2M731.9,291.8 733.8,298.2M734.0,298.8 736.7,299.3 740.6,296.4 739.3,291.1 744.5,289.3 745.0,288.8 744.0,284.3M745.0,288.8 748.2,289.7 752.4,292.5 759.4,299.3 764.1,299.7 766.5,296.1 768.1,296.4M764.1,299.7 767.3,301.8 769.1,301.8M759.7,270.8 761.3,275.0 763.4,277.9 761.3,282.2 762.8,285.7 767.5,290.0 768.1,294.7 769.6,296.4M754.2,345.0 755.8,341.0 758.4,343.5 761.5,348.5 763.6,344.6 765.7,340.0 770.7,337.8 777.2,335.7 778.5,335.7 786.4,332.1 788.2,325.0 786.9,322.5 780.1,321.8 777.5,317.1M788.2,325.0 789.0,317.8 790.1,314.6M778.5,335.7 781.4,344.1M775.4,315.2 776.4,315.7M708.4,290.7 707.9,299.3 707.9,325.0 739.0,325.0M707.9,325.0 707.9,332.1 705.2,332.1 705.2,333.9 684.3,319.8 681.7,321.4 679.6,322.8 673.8,319.6 668.6,316.1 667.0,310.0 668.6,307.1 668.3,301.8 667.3,295.7 669.4,290.4 672.8,287.5 672.5,285.0M667.3,295.7 666.0,289.3 662.0,282.9 664.1,277.5 664.9,271.8M636.6,278.2 637.7,280.4 638.0,284.7 639.3,288.6 633.0,290.4 633.0,293.6 628.0,297.2 619.6,301.1 619.6,304.6 607.8,304.6M619.6,304.6 619.6,310.7 611.0,310.7 611.0,319.6 608.4,321.4 608.4,327.5 597.9,327.5M619.6,306.1 629.8,314.3 645.5,328.2 645.5,329.3 650.8,332.8 651.0,335.7 653.4,335.0 658.1,333.5 662.0,328.9 673.8,319.6M629.8,314.3 625.4,314.3 628.0,348.2 618.1,348.2 614.4,348.5 612.3,347.8 610.5,350.7 607.1,346.0 604.4,344.3 599.7,344.6 599.2,346.4M610.5,350.7 611.0,354.6 612.6,359.2 606.5,358.2 598.7,359.2M598.4,355.0 603.1,354.2 606.3,355.3 603.1,356.4 598.4,356.7M606.5,358.2 606.5,361.7 603.1,364.2M612.6,359.2 618.8,359.2 620.9,364.2 621.5,367.1 620.2,376.4 618.1,377.1 615.4,373.2 613.1,367.8 609.7,368.2 607.6,371.4M615.4,373.2 612.3,378.9M620.2,376.4 622.8,382.8 622.8,387.8M621.5,367.1 626.2,365.3 628.0,366.4 635.1,368.9 634.0,380.3 634.3,385.3M628.0,366.4 631.1,358.2 637.2,352.8 642.9,350.0 651.6,348.5 653.4,343.5 653.4,335.0M642.9,350.0 645.0,355.7 648.7,361.0 651.8,361.7 652.9,355.3 660.7,357.1 668.6,356.0 678.0,354.6 683.0,343.2 681.7,332.1 681.7,321.4M635.1,368.9 635.1,364.2 642.4,363.9 644.8,364.2 648.7,361.0M642.4,363.9 643.7,373.2 645.5,381.7M644.8,364.2 646.6,371.4 646.6,381.0M649.5,380.6 649.7,371.4 651.8,361.7M664.7,386.7 666.8,380.3 672.5,379.6 676.4,369.6 679.6,359.2 679.3,356.7 678.0,354.6M679.3,356.7 681.7,360.3 683.0,367.8 679.1,368.2 682.2,376.7 691.1,374.9 697.4,369.6 702.4,364.6 700.0,358.2 701.3,353.5 705.2,347.5 705.2,333.9M682.2,376.7 680.4,383.9 684.3,395.6 677.2,395.6 672.0,395.6 668.1,395.3M672.0,395.6 672.0,399.9 667.5,399.9M677.2,395.6 680.1,398.8 679.1,405.3 680.4,410.6 675.1,411.7 672.5,416.0 671.5,417.4M684.3,395.6 685.6,391.0 691.1,391.0 689.0,401.7 684.8,410.6 682.5,418.8 676.7,419.9 674.3,424.2M691.1,391.0 691.1,387.8 701.0,388.9 707.9,385.6 714.1,385.3 719.6,387.1 723.0,391.0 726.2,390.6 731.4,388.5 736.4,387.1M702.4,364.6 703.9,372.4 707.9,376.0 714.1,385.3M736.4,387.1 733.2,379.6 728.8,374.9 731.7,369.6 732.2,365.7 734.0,360.7 737.7,352.5 739.3,342.8 743.5,339.3M737.7,352.5 741.9,351.7 747.1,351.7 753.4,358.9 755.2,358.2M753.4,358.9 751.8,364.2 754.5,364.6 755.8,362.4M754.5,364.6 757.6,371.4 765.4,374.9 768.1,374.9 760.2,385.6 755.0,388.1 752.1,389.6 745.8,391.3 741.9,390.6 736.7,387.8 736.4,387.1M752.1,389.6 749.7,393.5 749.7,406.7 751.3,409.5M731.4,388.5 732.7,392.8 734.0,397.4 731.4,403.5 731.2,407.0 740.8,414.2 741.1,416.0 745.0,420.2M723.0,391.0 723.6,395.6 720.2,401.0 719.9,408.5 722.3,407.0 731.2,407.0M722.3,407.0 723.0,412.0 720.9,419.2 719.4,419.2 718.3,413.1 719.9,408.5M718.3,413.1 723.0,412.0M719.4,419.2 719.6,424.9 723.0,432.7 718.1,433.8 716.8,436.7 717.5,441.7 716.8,445.9 720.4,447.0 720.4,451.3 717.0,448.8 713.6,444.9 708.6,443.4 706.3,444.2 705.2,442.4M705.2,442.4 700.5,443.4 699.5,429.5 693.5,428.5 688.2,432.4 685.9,424.5 676.4,424.5 674.3,424.2M705.2,442.4 705.2,449.9 700.0,449.9 700.0,461.3 703.7,466.3 697.4,467.7 690.8,465.6 679.1,465.6 673.3,465.2M723.0,432.7 728.5,437.0 729.6,442.0 728.0,452.0 729.3,453.4 721.5,457.0 722.0,459.1 718.1,460.6 713.1,467.3 708.6,467.0 703.7,466.3M708.6,467.0 697.4,468.8 697.4,482.0 694.8,482.0 694.8,492.0 694.8,504.8 688.2,505.9 685.6,505.5M694.8,492.0 696.9,499.1 701.8,494.5 709.2,495.2 712.8,488.0 719.4,482.7 714.9,476.6 708.6,467.0M719.4,482.7 724.3,483.4 727.5,479.5 728.8,474.1 728.5,464.1 724.3,460.6 722.0,459.1M724.3,483.4 726.2,490.9 726.2,495.9 726.4,499.1 728.5,499.3M726.4,499.1 723.6,500.5 723.0,497.3 724.6,495.2 726.2,495.9M713.1,509.1 715.7,505.9 719.1,507.7 718.3,511.6 715.7,512.7 713.1,509.1M728.5,437.0 731.4,437.4 733.0,442.7 733.8,444.9 740.6,445.2 748.2,440.9M733.8,444.9 733.0,448.1 736.1,451.6 736.4,456.6 734.8,462.4 734.8,464.5 732.5,461.6 732.5,455.2 729.3,453.4M771.2,237.9 769.4,232.9 765.4,231.1 764.4,229.7 765.4,225.4 769.4,225.1 775.4,219.0 785.1,221.5 789.0,221.5 796.1,221.2 803.4,221.5 800.0,217.9 802.1,214.4 803.4,210.8 812.6,209.4 823.0,206.2 828.3,210.1 834.6,211.2 837.7,212.2 842.7,209.7 846.3,213.3 851.8,221.9 859.7,221.5 864.9,225.1 871.0,227.9 872.3,228.0M872.3,228.0 875.4,226.5 883.3,222.2 891.1,225.1 899.0,223.3 899.8,217.9 910.0,220.4 912.1,224.0 922.5,225.1 930.4,227.9 940.9,224.4 947.9,225.6 951.3,226.2 955.8,221.9 958.7,215.8 956.6,213.3 965.7,212.6 972.3,215.1 976.2,224.0 984.1,229.0 985.4,233.3 990.6,231.9 995.3,230.8 993.2,235.8 990.9,242.6 987.5,241.8 985.4,244.0 986.1,248.6 984.3,252.0M872.3,228.0 874.4,231.5 880.4,238.3 880.6,242.2 887.2,243.3 892.2,245.8 894.8,251.1 904.2,251.5 909.4,252.9 917.3,255.1 923.8,252.2 930.4,251.1 935.4,247.6 934.3,245.1 939.8,243.6 946.1,240.4 949.8,237.6 956.3,236.9 951.3,232.9 945.0,232.6 947.9,225.6M984.3,252.0 982.0,252.2 977.8,253.6 978.3,255.4 974.6,254.3 970.4,258.6 968.1,260.8M974.1,268.6 978.6,265.8M871.0,227.9 866.8,230.8 866.2,235.4 859.7,235.1 857.9,241.1 852.9,242.9 853.9,249.3 852.4,252.9 846.6,257.2 843.7,257.2 835.6,261.5 838.5,266.1 838.5,270.8 837.7,271.5M837.7,271.5 841.4,275.7 846.1,276.8 849.2,281.1 848.4,287.5 849.2,292.2 854.5,295.7 862.3,300.4 867.6,303.6 873.0,303.9 875.1,306.1 878.0,302.5 882.2,304.3 887.2,301.1 892.4,299.7 897.1,302.9M897.1,302.9 900.8,305.4 900.8,311.4 897.9,316.4 901.1,317.8 902.9,321.8 902.1,324.6 904.7,326.9 907.1,325.7 909.7,323.6 914.4,322.8 918.1,320.3 921.7,321.8 921.7,325.0 925.1,326.6M779.8,254.3 786.1,253.6 789.0,256.1 789.0,242.9 795.8,240.8 802.1,245.4 812.3,247.6 815.2,250.4 815.5,253.6 820.4,257.2 823.3,255.8 828.3,252.9 834.8,252.2 838.0,249.3 844.0,250.4 852.4,252.9M789.0,256.1 791.6,256.1 795.8,251.1 799.5,252.9 799.7,255.8 804.5,256.8 806.0,260.8 810.5,264.7 816.5,270.0 812.1,271.8 807.3,277.2 802.6,276.5M802.6,276.5 802.4,272.9 797.7,269.7 792.4,267.2 787.7,267.9 783.8,270.0 783.5,270.4M816.5,270.0 819.9,270.8 823.8,271.1 826.2,268.3 829.6,268.3 829.9,272.5 834.3,269.7 838.5,270.8M819.9,270.8 820.7,264.7 819.6,262.2 823.8,260.0 827.0,259.7 826.4,262.5 835.6,262.5M828.3,252.9 827.0,255.8 831.4,257.2 833.8,257.9 830.1,260.0 827.0,259.7M802.6,276.5 801.1,281.1 801.1,285.7 801.8,291.1 804.2,292.9 801.8,297.0 806.0,298.6 808.1,306.4 806.8,308.6 803.7,313.6M806.0,298.6 816.0,296.8 817.0,292.2 823.8,289.7 824.4,285.7 826.4,284.7 825.7,282.2 828.5,281.1 829.9,275.0 837.7,271.5M821.0,318.9 828.3,316.4 825.9,311.8 826.7,307.1 824.4,306.4 827.5,303.6 834.6,296.8 837.4,292.9 837.7,287.5 836.1,285.7 835.6,281.1 846.1,276.8M854.5,295.7 852.1,300.7 859.7,305.7 864.9,307.9 873.0,309.3 873.0,303.9M875.1,306.1 875.4,307.9 883.3,307.9 882.2,304.3M873.0,309.3 875.1,309.6 877.5,311.1 877.5,313.2 884.0,313.9 884.3,316.1 881.2,317.8 882.2,321.4 884.8,325.0 884.0,329.3M873.0,309.3 873.0,311.4 875.1,313.6 872.8,315.7 874.6,317.8 874.9,321.4 875.4,325.3M884.8,325.0 886.4,323.9 886.7,317.8 890.1,313.2 891.6,308.6 897.1,302.9M907.1,325.7 905.8,329.6 904.5,330.9 901.3,333.2 898.4,337.5 897.4,342.1 900.5,345.7 899.5,349.6 901.8,354.2 902.1,358.5 903.2,361.7 900.8,367.1M904.5,330.9 905.5,333.9 907.3,333.9 906.8,340.0 909.7,338.5 912.8,337.8 916.5,341.0 916.8,345.0 918.6,347.5 917.8,352.3 919.9,352.3 924.1,351.0M909.7,323.6 912.1,329.3 916.2,330.7 914.7,333.9 917.8,336.8 921.5,342.8 923.8,350.0 924.1,351.0 923.8,358.9 919.9,361.7 919.7,364.2 916.0,366.4M917.8,352.3 912.1,352.5 910.5,355.3 911.8,361.7M904.5,380.5 907.1,383.1 909.7,381.2M929.3,396.3 932.0,400.3 936.1,398.5 940.9,398.1 943.5,393.1 945.3,388.1 950.3,388.5M941.1,387.1 943.0,389.2 944.3,386.0M1011.5,412.8 1011.5,435.9M317.8,238.6 319.9,238.8 320.9,240.6 324.3,240.4 326.9,240.4 330.9,239.4 336.4,239.4M336.0,228.6 336.0,237.9 336.4,239.4 337.4,241.1 336.1,245.4 336.1,253.6M317.2,253.6 351.7,253.6M328.2,253.6 328.2,264.3 342.4,278.6 343.7,281.1 342.6,284.0 342.1,286.8M343.8,253.6 343.8,274.3 342.1,274.7 342.4,278.6M343.8,271.5 394.7,271.5M338.6,228.6 338.6,232.2 339.5,234.4 342.4,237.2 343.2,241.1 345.3,242.6 346.6,244.7 351.7,244.7M351.7,242.9 351.7,257.2 370.0,257.2M351.7,242.9 370.0,242.9M370.0,228.6 370.0,257.2M356.9,257.2 356.9,291.8M370.0,257.2 375.2,257.2 375.2,271.5M370.0,250.1 384.5,250.1 386.4,250.6 389.8,251.8M370.0,239.6 389.6,239.6M387.9,228.6 389.0,235.8 389.6,239.6 389.9,241.8 389.9,248.3 389.8,251.8 390.8,255.4 391.3,257.9 392.9,260.8 394.7,264.0 394.7,273.2 395.1,277.2 395.1,283.6M389.9,248.3 403.6,248.3M375.2,260.8 392.9,260.8M372.8,271.5 372.8,273.2 380.6,273.2 380.6,280.2 385.8,281.8 389.8,282.9 395.0,283.6 396.2,283.8 396.2,289.7 397.4,292.9 396.8,297.5M372.6,273.2 372.6,289.3 363.3,289.3 363.6,290.0M396.2,285.7 403.8,285.7M394.7,273.2 406.4,273.2 406.0,275.0 407.6,275.0M391.6,258.6 402.3,258.6 403.1,259.3M400.8,236.9 400.8,239.0 399.5,241.1 399.6,243.8 401.8,245.8 403.6,248.3 403.9,250.1 405.1,251.8 406.3,254.3 404.2,256.5 403.9,258.3 403.1,259.3 402.9,261.1 405.0,264.3 406.3,265.0 406.3,266.8 408.1,270.4 409.0,271.5 408.1,273.2 407.6,275.0 406.5,278.2 405.2,279.7 403.9,282.5 403.8,285.7 403.9,287.5 402.9,291.1 402.6,292.9 407.6,292.9 407.8,295.7M405.7,237.4 411.8,239.7 413.1,242.6M405.1,251.8 412.5,251.8M413.3,254.5 413.3,263.1 411.9,268.6M420.4,254.7 420.4,264.0M413.3,254.5 423.9,254.7M431.6,253.6 431.6,258.5 431.1,260.4 428.8,263.3 427.2,265.8 426.2,266.5 425.1,265.2 421.2,264.0 420.4,264.0 417.9,267.0 415.9,267.9 413.1,268.1 411.9,268.6 410.4,271.1 409.0,271.5M408.1,273.2 423.3,272.9 428.5,272.9 443.7,273.1M428.5,272.9 426.4,275.0 424.8,275.7 421.7,278.6 406.0,278.6M411.5,278.6 410.8,295.4M418.3,278.6 419.4,286.1 419.9,288.2 419.9,292.9 420.3,293.9 427.2,294.5 429.0,293.9M413.1,295.0 413.1,292.9 419.9,292.9M430.3,289.1 429.0,285.7 427.2,283.6 424.8,280.0 424.2,278.6M421.7,278.6 424.8,278.6 426.9,277.9 430.3,278.1 430.9,279.3 433.7,279.3 436.8,282.7M423.3,272.9 427.7,269.5 429.8,270.6 432.2,269.7 434.0,265.8 435.8,265.0 437.3,262.9 438.9,263.3 439.5,264.0 440.7,264.7 440.0,266.5 442.7,267.9M427.7,269.5 426.2,267.2 426.2,266.5M431.6,261.8 444.0,261.8 444.2,266.3 445.9,266.3M434.3,261.8 434.3,263.6 436.9,262.2 438.9,263.3M433.6,252.7 433.6,253.6 445.1,253.6 446.8,255.9 445.8,257.5 445.5,258.6 446.7,260.0 445.0,261.5M446.8,255.9 448.9,257.2M450.0,256.8 450.0,253.4 450.5,250.9 450.5,247.9 450.4,242.9M450.0,253.4 454.4,253.4 454.4,256.1M454.4,253.6 455.5,253.6 456.3,255.4M450.5,251.0 455.7,251.0 457.0,250.5M452.7,251.0 453.1,247.9 453.9,245.4 455.2,242.9M457.0,249.7 456.5,247.9 456.3,241.8" fill="none" stroke="#000" stroke-width="2.8" stroke-linejoin="round" stroke-linecap="round" shape-rendering="crispEdges"/></g>
<polygon fill="none" stroke="#ff00ff" stroke-width="1" shape-rendering="crispEdges" points="199.3,160 210.8,153.6 276,153.6 322.5,224.5 482.5,224.5 482.5,346 445,346.2 327.5,296.7 236,342.3 223.5,342.3 212.5,331.5"/>
<g stroke="#000" stroke-width="1" fill="none" shape-rendering="crispEdges">
<rect x="176.5" y="139.5" width="937" height="529"/>
<line x1="250.5" y1="139" x2="250.5" y2="149"/><line x1="250.5" y1="659" x2="250.5" y2="669"/>
<line x1="381.5" y1="139" x2="381.5" y2="149"/><line x1="381.5" y1="659" x2="381.5" y2="669"/>
<line x1="512.5" y1="139" x2="512.5" y2="149"/><line x1="512.5" y1="659" x2="512.5" y2="669"/>
<line x1="642.5" y1="139" x2="642.5" y2="149"/><line x1="642.5" y1="659" x2="642.5" y2="669"/>
<line x1="773.5" y1="139" x2="773.5" y2="149"/><line x1="773.5" y1="659" x2="773.5" y2="669"/>
<line x1="904.5" y1="139" x2="904.5" y2="149"/><line x1="904.5" y1="659" x2="904.5" y2="669"/>
<line x1="1035.5" y1="139" x2="1035.5" y2="149"/><line x1="1035.5" y1="659" x2="1035.5" y2="669"/>
<line x1="176" y1="189.5" x2="186" y2="189.5"/><line x1="1104" y1="189.5" x2="1114" y2="189.5"/>
<line x1="176" y1="260.5" x2="186" y2="260.5"/><line x1="1104" y1="260.5" x2="1114" y2="260.5"/>
<line x1="176" y1="332.5" x2="186" y2="332.5"/><line x1="1104" y1="332.5" x2="1114" y2="332.5"/>
<line x1="176" y1="403.5" x2="186" y2="403.5"/><line x1="1104" y1="403.5" x2="1114" y2="403.5"/>
<line x1="176" y1="474.5" x2="186" y2="474.5"/><line x1="1104" y1="474.5" x2="1114" y2="474.5"/>
<line x1="176" y1="546.5" x2="186" y2="546.5"/><line x1="1104" y1="546.5" x2="1114" y2="546.5"/>
<line x1="176" y1="617.5" x2="186" y2="617.5"/><line x1="1104" y1="617.5" x2="1114" y2="617.5"/>
</g>
<g shape-rendering="crispEdges">
<rect x="1145.5" y="660.23" width="42.5" height="8.87" fill="#00008f"/>
<rect x="1145.5" y="651.97" width="42.5" height="8.87" fill="#00009f"/>
<rect x="1145.5" y="643.70" width="42.5" height="8.87" fill="#0000af"/>
<rect x="1145.5" y="635.44" width="42.5" height="8.87" fill="#0000bf"/>
<rect x="1145.5" y="627.17" width="42.5" height="8.87" fill="#0000cf"/>
<rect x="1145.5" y="618.91" width="42.5" height="8.87" fill="#0000df"/>
<rect x="1145.5" y="610.64" width="42.5" height="8.87" fill="#0000ef"/>
<rect x="1145.5" y="602.38" width="42.5" height="8.87" fill="#0000ff"/>
<rect x="1145.5" y="594.11" width="42.5" height="8.87" fill="#0010ff"/>
<rect x="1145.5" y="585.84" width="42.5" height="8.87" fill="#0020ff"/>
<rect x="1145.5" y="577.58" width="42.5" height="8.87" fill="#0030ff"/>
<rect x="1145.5" y="569.31" width="42.5" height="8.87" fill="#0040ff"/>
<rect x="1145.5" y="561.05" width="42.5" height="8.87" fill="#0050ff"/>
<rect x="1145.5" y="552.78" width="42.5" height="8.87" fill="#0060ff"/>
<rect x="1145.5" y="544.52" width="42.5" height="8.87" fill="#0070ff"/>
<rect x="1145.5" y="536.25" width="42.5" height="8.87" fill="#0080ff"/>
<rect x="1145.5" y="527.98" width="42.5" height="8.87" fill="#008fff"/>
<rect x="1145.5" y="519.72" width="42.5" height="8.87" fill="#009fff"/>
<rect x="1145.5" y="511.45" width="42.5" height="8.87" fill="#00afff"/>
<rect x="1145.5" y="503.19" width="42.5" height="8.87" fill="#00bfff"/>
<rect x="1145.5" y="494.92" width="42.5" height="8.87" fill="#00cfff"/>
<rect x="1145.5" y="486.66" width="42.5" height="8.87" fill="#00dfff"/>
<rect x="1145.5" y="478.39" width="42.5" height="8.87" fill="#00efff"/>
<rect x="1145.5" y="470.12" width="42.5" height="8.87" fill="#00ffff"/>
<rect x="1145.5" y="461.86" width="42.5" height="8.87" fill="#10ffef"/>
<rect x="1145.5" y="453.59" width="42.5" height="8.87" fill="#20ffdf"/>
<rect x="1145.5" y="445.33" width="42.5" height="8.87" fill="#30ffcf"/>
<rect x="1145.5" y="437.06" width="42.5" height="8.87" fill="#40ffbf"/>
<rect x="1145.5" y="428.80" width="42.5" height="8.87" fill="#50ffaf"/>
<rect x="1145.5" y="420.53" width="42.5" height="8.87" fill="#60ff9f"/>
<rect x="1145.5" y="412.27" width="42.5" height="8.87" fill="#70ff8f"/>
<rect x="1145.5" y="404.00" width="42.5" height="8.87" fill="#80ff80"/>
<rect x="1145.5" y="395.73" width="42.5" height="8.87" fill="#8fff70"/>
<rect x="1145.5" y="387.47" width="42.5" height="8.87" fill="#9fff60"/>
<rect x="1145.5" y="379.20" width="42.5" height="8.87" fill="#afff50"/>
<rect x="1145.5" y="370.94" width="42.5" height="8.87" fill="#bfff40"/>
<rect x="1145.5" y="362.67" width="42.5" height="8.87" fill="#cfff30"/>
<rect x="1145.5" y="354.41" width="42.5" height="8.87" fill="#dfff20"/>
<rect x="1145.5" y="346.14" width="42.5" height="8.87" fill="#efff10"/>
<rect x="1145.5" y="337.88" width="42.5" height="8.87" fill="#ffff00"/>
<rect x="1145.5" y="329.61" width="42.5" height="8.87" fill="#ffef00"/>
<rect x="1145.5" y="321.34" width="42.5" height="8.87" fill="#ffdf00"/>
<rect x="1145.5" y="313.08" width="42.5" height="8.87" fill="#ffcf00"/>
<rect x="1145.5" y="304.81" width="42.5" height="8.87" fill="#ffbf00"/>
<rect x="1145.5" y="296.55" width="42.5" height="8.87" fill="#ffaf00"/>
<rect x="1145.5" y="288.28" width="42.5" height="8.87" fill="#ff9f00"/>
<rect x="1145.5" y="280.02" width="42.5" height="8.87" fill="#ff8f00"/>
<rect x="1145.5" y="271.75" width="42.5" height="8.87" fill="#ff8000"/>
<rect x="1145.5" y="263.48" width="42.5" height="8.87" fill="#ff7000"/>
<rect x="1145.5" y="255.22" width="42.5" height="8.87" fill="#ff6000"/>
<rect x="1145.5" y="246.95" width="42.5" height="8.87" fill="#ff5000"/>
<rect x="1145.5" y="238.69" width="42.5" height="8.87" fill="#ff4000"/>
<rect x="1145.5" y="230.42" width="42.5" height="8.87" fill="#ff3000"/>
<rect x="1145.5" y="222.16" width="42.5" height="8.87" fill="#ff2000"/>
<rect x="1145.5" y="213.89" width="42.5" height="8.87" fill="#ff1000"/>
<rect x="1145.5" y="205.62" width="42.5" height="8.87" fill="#ff0000"/>
<rect x="1145.5" y="197.36" width="42.5" height="8.87" fill="#ef0000"/>
<rect x="1145.5" y="189.09" width="42.5" height="8.87" fill="#df0000"/>
<rect x="1145.5" y="180.83" width="42.5" height="8.87" fill="#cf0000"/>
<rect x="1145.5" y="172.56" width="42.5" height="8.87" fill="#bf0000"/>
<rect x="1145.5" y="164.30" width="42.5" height="8.87" fill="#af0000"/>
<rect x="1145.5" y="156.03" width="42.5" height="8.87" fill="#9f0000"/>
<rect x="1145.5" y="147.77" width="42.5" height="8.87" fill="#8f0000"/>
<rect x="1145.5" y="139.50" width="42.5" height="8.87" fill="#800000"/>
<rect x="1145.5" y="139.5" width="42.5" height="529.0" fill="none" stroke="#000" stroke-width="1"/>
<line x1="1145" y1="169.5" x2="1151" y2="169.5" stroke="#000"/><line x1="1182" y1="169.5" x2="1188" y2="169.5" stroke="#000"/>
<line x1="1145" y1="241.5" x2="1151" y2="241.5" stroke="#000"/><line x1="1182" y1="241.5" x2="1188" y2="241.5" stroke="#000"/>
<line x1="1145" y1="313.5" x2="1151" y2="313.5" stroke="#000"/><line x1="1182" y1="313.5" x2="1188" y2="313.5" stroke="#000"/>
<line x1="1145" y1="384.5" x2="1151" y2="384.5" stroke="#000"/><line x1="1182" y1="384.5" x2="1188" y2="384.5" stroke="#000"/>
<line x1="1145" y1="456.5" x2="1151" y2="456.5" stroke="#000"/><line x1="1182" y1="456.5" x2="1188" y2="456.5" stroke="#000"/>
<line x1="1145" y1="528.5" x2="1151" y2="528.5" stroke="#000"/><line x1="1182" y1="528.5" x2="1188" y2="528.5" stroke="#000"/>
<line x1="1145" y1="600.5" x2="1151" y2="600.5" stroke="#000"/><line x1="1182" y1="600.5" x2="1188" y2="600.5" stroke="#000"/>
</g>
<text class="m" x="192.4" y="20.0" font-size="22.3" textLength="886.8" lengthAdjust="spacingAndGlyphs" fill="#000" xml:space="preserve" >Dual Frequency L2C RAIM RNP 0.3 (HAL = 556m) Unavailability</text>
<text class="m" x="373.4" y="45.6" font-size="22.3" textLength="541.1" lengthAdjust="spacingAndGlyphs" fill="#000" xml:space="preserve" >FD Only, SA Off, without Baro-Aiding</text>
<text class="m" x="583.6" y="71.7" font-size="22.3" textLength="120.2" lengthAdjust="spacingAndGlyphs" fill="#000" xml:space="preserve" >01/11/25</text>
<text class="m" x="530.6" y="97.7" font-size="22.3" textLength="225.4" lengthAdjust="spacingAndGlyphs" fill="#000" xml:space="preserve" >Week 2348 Day 6</text>
<text class="m" x="143.6" y="194.0" font-size="21.4" textLength="25.8" lengthAdjust="spacingAndGlyphs" fill="#000" xml:space="preserve" stroke="#fff" stroke-width="0.42">60</text>
<text class="m" x="143.6" y="265.4" font-size="21.4" textLength="25.8" lengthAdjust="spacingAndGlyphs" fill="#000" xml:space="preserve" stroke="#fff" stroke-width="0.42">40</text>
<text class="m" x="143.6" y="336.7" font-size="21.4" textLength="25.8" lengthAdjust="spacingAndGlyphs" fill="#000" xml:space="preserve" stroke="#fff" stroke-width="0.42">20</text>
<text class="m" x="156.5" y="408.1" font-size="21.4" textLength="12.9" lengthAdjust="spacingAndGlyphs" fill="#000" xml:space="preserve" stroke="#fff" stroke-width="0.42">0</text>
<text class="m" x="143.6" y="479.4" font-size="21.4" textLength="25.8" lengthAdjust="spacingAndGlyphs" fill="#000" xml:space="preserve" stroke="#fff" stroke-width="0.42">20</text>
<text class="m" x="130.7" y="479.4" font-size="21.4" textLength="12.9" lengthAdjust="spacingAndGlyphs" fill="#000" xml:space="preserve" stroke="#fff" stroke-width="0.42">−</text>
<text class="m" x="143.6" y="550.8" font-size="21.4" textLength="25.8" lengthAdjust="spacingAndGlyphs" fill="#000" xml:space="preserve" stroke="#fff" stroke-width="0.42">40</text>
<text class="m" x="130.7" y="550.8" font-size="21.4" textLength="12.9" lengthAdjust="spacingAndGlyphs" fill="#000" xml:space="preserve" stroke="#fff" stroke-width="0.42">−</text>
<text class="m" x="143.6" y="622.2" font-size="21.4" textLength="25.8" lengthAdjust="spacingAndGlyphs" fill="#000" xml:space="preserve" stroke="#fff" stroke-width="0.42">60</text>
<text class="m" x="130.7" y="622.2" font-size="21.4" textLength="12.9" lengthAdjust="spacingAndGlyphs" fill="#000" xml:space="preserve" stroke="#fff" stroke-width="0.42">−</text>
<text class="m" x="230.1" y="689.6" font-size="21.4" textLength="38.7" lengthAdjust="spacingAndGlyphs" fill="#000" xml:space="preserve" stroke="#fff" stroke-width="0.42">150</text>
<text class="m" x="217.2" y="689.6" font-size="21.4" textLength="12.9" lengthAdjust="spacingAndGlyphs" fill="#000" xml:space="preserve" stroke="#fff" stroke-width="0.42">−</text>
<text class="m" x="361.0" y="689.6" font-size="21.4" textLength="38.7" lengthAdjust="spacingAndGlyphs" fill="#000" xml:space="preserve" stroke="#fff" stroke-width="0.42">100</text>
<text class="m" x="348.1" y="689.6" font-size="21.4" textLength="12.9" lengthAdjust="spacingAndGlyphs" fill="#000" xml:space="preserve" stroke="#fff" stroke-width="0.42">−</text>
<text class="m" x="498.3" y="689.6" font-size="21.4" textLength="25.8" lengthAdjust="spacingAndGlyphs" fill="#000" xml:space="preserve" stroke="#fff" stroke-width="0.42">50</text>
<text class="m" x="485.4" y="689.6" font-size="21.4" textLength="12.9" lengthAdjust="spacingAndGlyphs" fill="#000" xml:space="preserve" stroke="#fff" stroke-width="0.42">−</text>
<text class="m" x="635.7" y="689.6" font-size="21.4" textLength="12.9" lengthAdjust="spacingAndGlyphs" fill="#000" xml:space="preserve" stroke="#fff" stroke-width="0.42">0</text>
<text class="m" x="760.1" y="689.6" font-size="21.4" textLength="25.8" lengthAdjust="spacingAndGlyphs" fill="#000" xml:space="preserve" stroke="#fff" stroke-width="0.42">50</text>
<text class="m" x="884.6" y="689.6" font-size="21.4" textLength="38.7" lengthAdjust="spacingAndGlyphs" fill="#000" xml:space="preserve" stroke="#fff" stroke-width="0.42">100</text>
<text class="m" x="1015.5" y="689.6" font-size="21.4" textLength="38.7" lengthAdjust="spacingAndGlyphs" fill="#000" xml:space="preserve" stroke="#fff" stroke-width="0.42">150</text>
<text class="m" x="1192.6" y="174.2" font-size="21.4" textLength="38.7" lengthAdjust="spacingAndGlyphs" fill="#000" xml:space="preserve" stroke="#fff" stroke-width="0.42">140</text>
<text class="m" x="1192.6" y="245.9" font-size="21.4" textLength="38.7" lengthAdjust="spacingAndGlyphs" fill="#000" xml:space="preserve" stroke="#fff" stroke-width="0.42">120</text>
<text class="m" x="1192.6" y="317.7" font-size="21.4" textLength="38.7" lengthAdjust="spacingAndGlyphs" fill="#000" xml:space="preserve" stroke="#fff" stroke-width="0.42">100</text>
<text class="m" x="1192.6" y="389.4" font-size="21.4" textLength="25.8" lengthAdjust="spacingAndGlyphs" fill="#000" xml:space="preserve" stroke="#fff" stroke-width="0.42">80</text>
<text class="m" x="1192.6" y="461.1" font-size="21.4" textLength="25.8" lengthAdjust="spacingAndGlyphs" fill="#000" xml:space="preserve" stroke="#fff" stroke-width="0.42">60</text>
<text class="m" x="1192.6" y="532.9" font-size="21.4" textLength="25.8" lengthAdjust="spacingAndGlyphs" fill="#000" xml:space="preserve" stroke="#fff" stroke-width="0.42">40</text>
<text class="m" x="1192.6" y="604.6" font-size="21.4" textLength="25.8" lengthAdjust="spacingAndGlyphs" fill="#000" xml:space="preserve" stroke="#fff" stroke-width="0.42">20</text>
<text class="m" x="432.8" y="712.4" font-size="19.6" font-weight="bold" textLength="418.2" lengthAdjust="spacingAndGlyphs" fill="#000" xml:space="preserve" >Longitude (2 degree sample size)</text>
<g transform="translate(116.6,458.6) rotate(-90)"><text class="m" x="0.0" y="0.0" font-size="20.4" font-weight="bold" textLength="104.6" lengthAdjust="spacingAndGlyphs" fill="#000" xml:space="preserve" >Latitude</text></g>
<text class="s" transform="translate(1256.7,406.3) rotate(-90)" font-size="22.4" text-anchor="middle" textLength="243" lengthAdjust="spacingAndGlyphs" fill="#000">Duration of Outage (min)</text>
<text class="s" x="170.7" y="700" font-size="12" textLength="165.3" lengthAdjust="spacingAndGlyphs" fill="#000">W.J.H. FAA Technical Center</text>
<text class="s" x="170.7" y="714.7" font-size="12" textLength="96.7" lengthAdjust="spacingAndGlyphs" fill="#000">WAAS Test Team</text>
<text class="s" x="170.7" y="729.2" font-size="12" textLength="48.6" lengthAdjust="spacingAndGlyphs" fill="#000">01/12/25</text>
<text class="s" x="184.2" y="666.4" font-size="21.6" textLength="304" lengthAdjust="spacingAndGlyphs" fill="#ff00ff" stroke="#ff00ff" stroke-width="0.45">(WJH FAA Tech Cntr, NJ USA)</text>
<text class="m" x="891.0" y="694.5" font-size="13.4" textLength="333.0" lengthAdjust="spacingAndGlyphs" fill="#000" xml:space="preserve" >Percent Avail. | WNR Coverage| Global</text>
<line x1="892" y1="697.5" x2="1249" y2="697.5" stroke="#000" stroke-width="1" stroke-dasharray="7 2" shape-rendering="crispEdges"/>
<text class="m" x="949.0" y="707.2" font-size="13.4" textLength="270.0" lengthAdjust="spacingAndGlyphs" fill="#000" xml:space="preserve" >95    |  97.37%      |  97.67%</text>
<text class="m" x="949.0" y="717.7" font-size="13.4" textLength="279.0" lengthAdjust="spacingAndGlyphs" fill="#000" xml:space="preserve" >98    |  97.37%       |  97.67%</text>
<text class="m" x="949.0" y="728.3" font-size="13.4" textLength="279.0" lengthAdjust="spacingAndGlyphs" fill="#000" xml:space="preserve" >99    |  97.37%       |  97.67%</text>
<text class="m" x="949.0" y="739.4" font-size="13.4" textLength="279.0" lengthAdjust="spacingAndGlyphs" fill="#000" xml:space="preserve" >100   |  97.37%       |  97.67%</text>
</svg></body></html>
